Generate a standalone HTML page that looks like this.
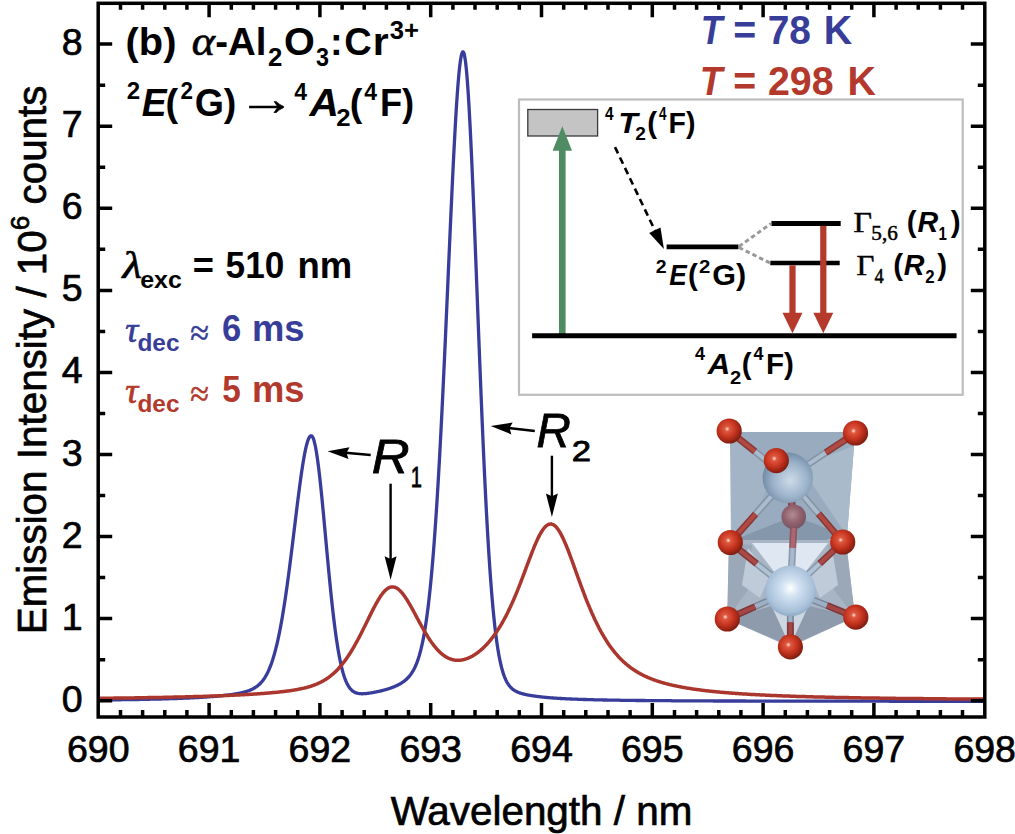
<!DOCTYPE html>
<html><head><meta charset="utf-8"><style>
html,body{margin:0;padding:0;background:#fff;}
svg{display:block;}
.tl{font-family:"Liberation Sans",Arial,sans-serif;font-size:37.5px;fill:#000;stroke:#000;stroke-width:0.7px;}
.al{font-family:"Liberation Sans",Arial,sans-serif;font-size:40.4px;fill:#000;stroke:#000;stroke-width:0.7px;}
.b{font-family:"Liberation Sans",Arial,sans-serif;font-weight:bold;}
.s{font-family:"Liberation Serif","Times New Roman",serif;}
</style></head><body>
<svg width="1015" height="834" viewBox="0 0 1015 834">
<rect width="1015" height="834" fill="#fff"/>
<path d="M99.7,700.0 L100.2,700.0 L100.7,700.0 L101.2,700.0 L101.7,700.0 L102.2,700.0 L102.7,700.0 L103.2,700.0 L103.7,700.0 L104.2,700.0 L104.7,700.0 L105.2,700.0 L105.7,699.9 L106.2,699.9 L106.7,699.9 L107.2,699.9 L107.7,699.9 L108.2,699.9 L108.7,699.9 L109.2,699.9 L109.7,699.9 L110.2,699.9 L110.7,699.9 L111.2,699.9 L111.7,699.9 L112.2,699.9 L112.7,699.9 L113.2,699.9 L113.7,699.9 L114.2,699.8 L114.7,699.8 L115.2,699.8 L115.7,699.8 L116.2,699.8 L116.7,699.8 L117.2,699.8 L117.7,699.8 L118.2,699.8 L118.7,699.8 L119.2,699.8 L119.7,699.8 L120.2,699.8 L120.7,699.8 L121.2,699.7 L121.7,699.7 L122.2,699.7 L122.7,699.7 L123.2,699.7 L123.7,699.7 L124.2,699.7 L124.7,699.7 L125.2,699.7 L125.7,699.7 L126.2,699.7 L126.7,699.7 L127.2,699.7 L127.7,699.7 L128.2,699.6 L128.7,699.6 L129.2,699.6 L129.7,699.6 L130.2,699.6 L130.7,699.6 L131.2,699.6 L131.7,699.6 L132.2,699.6 L132.7,699.6 L133.2,699.6 L133.7,699.6 L134.2,699.5 L134.7,699.5 L135.2,699.5 L135.7,699.5 L136.2,699.5 L136.7,699.5 L137.2,699.5 L137.7,699.5 L138.2,699.5 L138.7,699.5 L139.2,699.5 L139.7,699.4 L140.2,699.4 L140.7,699.4 L141.2,699.4 L141.7,699.4 L142.2,699.4 L142.7,699.4 L143.2,699.4 L143.7,699.4 L144.2,699.4 L144.7,699.3 L145.2,699.3 L145.7,699.3 L146.2,699.3 L146.7,699.3 L147.2,699.3 L147.7,699.3 L148.2,699.3 L148.7,699.3 L149.2,699.3 L149.7,699.2 L150.2,699.2 L150.7,699.2 L151.2,699.2 L151.7,699.2 L152.2,699.2 L152.7,699.2 L153.2,699.2 L153.7,699.2 L154.2,699.1 L154.7,699.1 L155.2,699.1 L155.7,699.1 L156.2,699.1 L156.7,699.1 L157.2,699.1 L157.7,699.1 L158.2,699.0 L158.7,699.0 L159.2,699.0 L159.7,699.0 L160.2,699.0 L160.7,699.0 L161.2,699.0 L161.7,699.0 L162.2,698.9 L162.7,698.9 L163.2,698.9 L163.7,698.9 L164.2,698.9 L164.7,698.9 L165.2,698.9 L165.7,698.8 L166.2,698.8 L166.7,698.8 L167.2,698.8 L167.7,698.8 L168.2,698.8 L168.7,698.8 L169.2,698.7 L169.7,698.7 L170.2,698.7 L170.7,698.7 L171.2,698.7 L171.7,698.7 L172.2,698.6 L172.7,698.6 L173.2,698.6 L173.7,698.6 L174.2,698.6 L174.7,698.6 L175.2,698.5 L175.7,698.5 L176.2,698.5 L176.7,698.5 L177.2,698.5 L177.7,698.5 L178.2,698.4 L178.7,698.4 L179.2,698.4 L179.7,698.4 L180.2,698.4 L180.7,698.3 L181.2,698.3 L181.7,698.3 L182.2,698.3 L182.7,698.3 L183.2,698.2 L183.7,698.2 L184.2,698.2 L184.7,698.2 L185.2,698.2 L185.7,698.1 L186.2,698.1 L186.7,698.1 L187.2,698.1 L187.7,698.1 L188.2,698.0 L188.7,698.0 L189.2,698.0 L189.7,698.0 L190.2,697.9 L190.7,697.9 L191.2,697.9 L191.7,697.9 L192.2,697.8 L192.7,697.8 L193.2,697.8 L193.7,697.8 L194.2,697.7 L194.7,697.7 L195.2,697.7 L195.7,697.7 L196.2,697.6 L196.7,697.6 L197.2,697.6 L197.7,697.6 L198.2,697.5 L198.7,697.5 L199.2,697.5 L199.7,697.4 L200.2,697.4 L200.7,697.4 L201.2,697.4 L201.7,697.3 L202.2,697.3 L202.7,697.3 L203.2,697.2 L203.7,697.2 L204.2,697.2 L204.7,697.1 L205.2,697.1 L205.7,697.1 L206.2,697.0 L206.7,697.0 L207.2,697.0 L207.7,696.9 L208.2,696.9 L208.7,696.9 L209.2,696.8 L209.7,696.8 L210.2,696.7 L210.7,696.7 L211.2,696.7 L211.7,696.6 L212.2,696.6 L212.7,696.6 L213.2,696.5 L213.7,696.5 L214.2,696.4 L214.7,696.4 L215.2,696.3 L215.7,696.3 L216.2,696.3 L216.7,696.2 L217.2,696.2 L217.7,696.1 L218.2,696.1 L218.7,696.0 L219.2,696.0 L219.7,695.9 L220.2,695.9 L220.7,695.8 L221.2,695.8 L221.7,695.7 L222.2,695.7 L222.7,695.6 L223.2,695.6 L223.7,695.5 L224.2,695.5 L224.7,695.4 L225.2,695.3 L225.7,695.3 L226.2,695.2 L226.7,695.2 L227.2,695.1 L227.7,695.0 L228.2,695.0 L228.7,694.9 L229.2,694.9 L229.7,694.8 L230.2,694.7 L230.7,694.6 L231.2,694.6 L231.7,694.5 L232.2,694.4 L232.7,694.4 L233.2,694.3 L233.7,694.2 L234.2,694.1 L234.7,694.0 L235.2,694.0 L235.7,693.9 L236.2,693.8 L236.7,693.7 L237.2,693.6 L237.7,693.5 L238.2,693.4 L238.7,693.3 L239.2,693.2 L239.7,693.1 L240.2,693.0 L240.7,692.9 L241.2,692.8 L241.7,692.7 L242.2,692.6 L242.7,692.5 L243.2,692.3 L243.7,692.2 L244.2,692.1 L244.7,691.9 L245.2,691.8 L245.7,691.7 L246.2,691.5 L246.7,691.4 L247.2,691.2 L247.7,691.0 L248.2,690.9 L248.7,690.7 L249.2,690.5 L249.7,690.3 L250.2,690.1 L250.7,689.9 L251.2,689.7 L251.7,689.4 L252.2,689.2 L252.7,689.0 L253.2,688.7 L253.7,688.4 L254.2,688.1 L254.7,687.9 L255.2,687.5 L255.7,687.2 L256.2,686.9 L256.7,686.5 L257.2,686.1 L257.7,685.8 L258.2,685.3 L258.7,684.9 L259.2,684.5 L259.7,684.0 L260.2,683.5 L260.7,683.0 L261.2,682.4 L261.7,681.9 L262.2,681.3 L262.7,680.6 L263.2,680.0 L263.7,679.3 L264.2,678.6 L264.7,677.8 L265.2,677.0 L265.7,676.2 L266.2,675.3 L266.7,674.4 L267.2,673.4 L267.7,672.4 L268.2,671.4 L268.7,670.3 L269.2,669.1 L269.7,668.0 L270.2,666.7 L270.7,665.4 L271.2,664.1 L271.7,662.7 L272.2,661.2 L272.7,659.7 L273.2,658.1 L273.7,656.4 L274.2,654.7 L274.7,652.9 L275.2,651.1 L275.7,649.2 L276.2,647.2 L276.7,645.1 L277.2,643.0 L277.7,640.8 L278.2,638.5 L278.7,636.2 L279.2,633.8 L279.7,631.3 L280.2,628.7 L280.7,626.1 L281.2,623.3 L281.7,620.5 L282.2,617.7 L282.7,614.7 L283.2,611.7 L283.7,608.6 L284.2,605.4 L284.7,602.2 L285.2,598.9 L285.7,595.5 L286.2,592.1 L286.7,588.5 L287.2,585.0 L287.7,581.3 L288.2,577.6 L288.7,573.9 L289.2,570.1 L289.7,566.2 L290.2,562.3 L290.7,558.4 L291.2,554.4 L291.7,550.4 L292.2,546.4 L292.7,542.3 L293.2,538.2 L293.7,534.1 L294.2,530.0 L294.7,525.9 L295.2,521.7 L295.7,517.6 L296.2,513.6 L296.7,509.5 L297.2,505.4 L297.7,501.4 L298.2,497.5 L298.7,493.6 L299.2,489.7 L299.7,485.9 L300.2,482.2 L300.7,478.6 L301.2,475.0 L301.7,471.6 L302.2,468.2 L302.7,465.0 L303.2,461.9 L303.7,459.0 L304.2,456.2 L304.7,453.5 L305.2,451.0 L305.7,448.7 L306.2,446.5 L306.7,444.5 L307.2,442.7 L307.7,441.1 L308.2,439.7 L308.7,438.5 L309.2,437.5 L309.7,436.8 L310.2,436.2 L310.7,435.9 L311.2,435.8 L311.7,435.9 L312.2,436.4 L312.7,437.2 L313.2,438.2 L313.7,439.6 L314.2,441.3 L314.7,443.3 L315.2,445.5 L315.7,448.0 L316.2,450.8 L316.7,453.9 L317.2,457.2 L317.7,460.7 L318.2,464.5 L318.7,468.4 L319.2,472.6 L319.7,477.0 L320.2,481.5 L320.7,486.2 L321.2,491.0 L321.7,495.9 L322.2,501.0 L322.7,506.2 L323.2,511.4 L323.7,516.7 L324.2,522.1 L324.7,527.5 L325.2,532.9 L325.7,538.4 L326.2,543.8 L326.7,549.3 L327.2,554.7 L327.7,560.1 L328.2,565.4 L328.7,570.7 L329.2,575.9 L329.7,581.0 L330.2,586.0 L330.7,590.9 L331.2,595.8 L331.7,600.5 L332.2,605.1 L332.7,609.6 L333.2,614.0 L333.7,618.2 L334.2,622.3 L334.7,626.3 L335.2,630.1 L335.7,633.8 L336.2,637.4 L336.7,640.8 L337.2,644.1 L337.7,647.3 L338.2,650.3 L338.7,653.1 L339.2,655.9 L339.7,658.5 L340.2,661.0 L340.7,663.3 L341.2,665.5 L341.7,667.6 L342.2,669.6 L342.7,671.5 L343.2,673.3 L343.7,674.9 L344.2,676.5 L344.7,677.9 L345.2,679.3 L345.7,680.6 L346.2,681.7 L346.7,682.9 L347.2,683.9 L347.7,684.8 L348.2,685.7 L348.7,686.5 L349.2,687.3 L349.7,688.0 L350.2,688.6 L350.7,689.2 L351.2,689.7 L351.7,690.2 L352.2,690.6 L352.7,691.0 L353.2,691.4 L353.7,691.7 L354.2,692.0 L354.7,692.3 L355.2,692.5 L355.7,692.7 L356.2,692.9 L356.7,693.1 L357.2,693.2 L357.7,693.3 L358.2,693.4 L358.7,693.5 L359.2,693.6 L359.7,693.6 L360.2,693.7 L360.7,693.7 L361.2,693.7 L361.7,693.8 L362.2,693.8 L362.7,693.8 L363.2,693.7 L363.7,693.7 L364.2,693.7 L364.7,693.7 L365.2,693.6 L365.7,693.6 L366.2,693.5 L366.7,693.5 L367.2,693.4 L367.7,693.4 L368.2,693.3 L368.7,693.2 L369.2,693.2 L369.7,693.1 L370.2,693.0 L370.7,692.9 L371.2,692.9 L371.7,692.8 L372.2,692.7 L372.7,692.6 L373.2,692.5 L373.7,692.4 L374.2,692.3 L374.7,692.2 L375.2,692.1 L375.7,692.0 L376.2,691.9 L376.7,691.8 L377.2,691.7 L377.7,691.6 L378.2,691.5 L378.7,691.4 L379.2,691.3 L379.7,691.2 L380.2,691.1 L380.7,690.9 L381.2,690.8 L381.7,690.7 L382.2,690.6 L382.7,690.4 L383.2,690.3 L383.7,690.2 L384.2,690.0 L384.7,689.9 L385.2,689.8 L385.7,689.6 L386.2,689.5 L386.7,689.3 L387.2,689.2 L387.7,689.0 L388.2,688.9 L388.7,688.7 L389.2,688.5 L389.7,688.4 L390.2,688.2 L390.7,688.0 L391.2,687.8 L391.7,687.7 L392.2,687.5 L392.7,687.3 L393.2,687.1 L393.7,686.9 L394.2,686.7 L394.7,686.5 L395.2,686.3 L395.7,686.0 L396.2,685.8 L396.7,685.6 L397.2,685.4 L397.7,685.1 L398.2,684.9 L398.7,684.6 L399.2,684.3 L399.7,684.1 L400.2,683.8 L400.7,683.5 L401.2,683.2 L401.7,682.9 L402.2,682.5 L402.7,682.2 L403.2,681.9 L403.7,681.5 L404.2,681.1 L404.7,680.7 L405.2,680.3 L405.7,679.9 L406.2,679.5 L406.7,679.0 L407.2,678.5 L407.7,678.0 L408.2,677.5 L408.7,677.0 L409.2,676.4 L409.7,675.8 L410.2,675.1 L410.7,674.5 L411.2,673.8 L411.7,673.0 L412.2,672.3 L412.7,671.4 L413.2,670.6 L413.7,669.7 L414.2,668.7 L414.7,667.7 L415.2,666.7 L415.7,665.5 L416.2,664.4 L416.7,663.1 L417.2,661.8 L417.7,660.4 L418.2,658.9 L418.7,657.4 L419.2,655.8 L419.7,654.0 L420.2,652.2 L420.7,650.3 L421.2,648.3 L421.7,646.2 L422.2,643.9 L422.7,641.6 L423.2,639.1 L423.7,636.5 L424.2,633.7 L424.7,630.8 L425.2,627.8 L425.7,624.6 L426.2,621.2 L426.7,617.7 L427.2,614.1 L427.7,610.2 L428.2,606.2 L428.7,601.9 L429.2,597.5 L429.7,592.9 L430.2,588.1 L430.7,583.1 L431.2,577.9 L431.7,572.5 L432.2,566.8 L432.7,561.0 L433.2,554.9 L433.7,548.6 L434.2,542.0 L434.7,535.2 L435.2,528.2 L435.7,521.0 L436.2,513.5 L436.7,505.8 L437.2,497.9 L437.7,489.7 L438.2,481.3 L438.7,472.7 L439.2,463.8 L439.7,454.8 L440.2,445.5 L440.7,436.0 L441.2,426.3 L441.7,416.4 L442.2,406.4 L442.7,396.1 L443.2,385.7 L443.7,375.1 L444.2,364.4 L444.7,353.5 L445.2,342.6 L445.7,331.5 L446.2,320.3 L446.7,309.1 L447.2,297.8 L447.7,286.5 L448.2,275.1 L448.7,263.8 L449.2,252.5 L449.7,241.2 L450.2,230.0 L450.7,218.9 L451.2,207.9 L451.7,197.1 L452.2,186.4 L452.7,175.9 L453.2,165.7 L453.7,155.7 L454.2,146.0 L454.7,136.6 L455.2,127.5 L455.7,118.8 L456.2,110.6 L456.7,102.7 L457.2,95.4 L457.7,88.5 L458.2,82.1 L458.7,76.3 L459.2,71.1 L459.7,66.4 L460.2,62.4 L460.7,59.0 L461.2,56.2 L461.7,54.1 L462.2,52.7 L462.7,51.9 L463.2,51.8 L463.7,52.6 L464.2,54.1 L464.7,56.4 L465.2,59.4 L465.7,63.3 L466.2,67.9 L466.7,73.2 L467.2,79.2 L467.7,85.9 L468.2,93.2 L468.7,101.2 L469.2,109.7 L469.7,118.8 L470.2,128.4 L470.7,138.5 L471.2,149.0 L471.7,159.9 L472.2,171.2 L472.7,182.8 L473.2,194.8 L473.7,207.0 L474.2,219.4 L474.7,232.0 L475.2,244.7 L475.7,257.6 L476.2,270.5 L476.7,283.5 L477.2,296.5 L477.7,309.6 L478.2,322.5 L478.7,335.5 L479.2,348.3 L479.7,361.0 L480.2,373.6 L480.7,386.0 L481.2,398.3 L481.7,410.3 L482.2,422.1 L482.7,433.7 L483.2,445.1 L483.7,456.2 L484.2,467.0 L484.7,477.6 L485.2,487.8 L485.7,497.8 L486.2,507.4 L486.7,516.8 L487.2,525.8 L487.7,534.6 L488.2,543.0 L488.7,551.1 L489.2,558.9 L489.7,566.4 L490.2,573.6 L490.7,580.4 L491.2,587.0 L491.7,593.3 L492.2,599.3 L492.7,605.0 L493.2,610.4 L493.7,615.5 L494.2,620.4 L494.7,625.1 L495.2,629.5 L495.7,633.6 L496.2,637.5 L496.7,641.2 L497.2,644.7 L497.7,648.0 L498.2,651.1 L498.7,654.0 L499.2,656.7 L499.7,659.3 L500.2,661.7 L500.7,663.9 L501.2,666.0 L501.7,668.0 L502.2,669.8 L502.7,671.6 L503.2,673.2 L503.7,674.7 L504.2,676.0 L504.7,677.3 L505.2,678.5 L505.7,679.7 L506.2,680.7 L506.7,681.7 L507.2,682.6 L507.7,683.4 L508.2,684.2 L508.7,684.9 L509.2,685.6 L509.7,686.2 L510.2,686.8 L510.7,687.3 L511.2,687.9 L511.7,688.3 L512.2,688.8 L512.7,689.2 L513.2,689.6 L513.7,689.9 L514.2,690.3 L514.7,690.6 L515.2,690.9 L515.7,691.1 L516.2,691.4 L516.7,691.7 L517.2,691.9 L517.7,692.1 L518.2,692.3 L518.7,692.5 L519.2,692.7 L519.7,692.9 L520.2,693.1 L520.7,693.2 L521.2,693.4 L521.7,693.5 L522.2,693.7 L522.7,693.8 L523.2,693.9 L523.7,694.1 L524.2,694.2 L524.7,694.3 L525.2,694.4 L525.7,694.5 L526.2,694.6 L526.7,694.8 L527.2,694.9 L527.7,695.0 L528.2,695.1 L528.7,695.1 L529.2,695.2 L529.7,695.3 L530.2,695.4 L530.7,695.5 L531.2,695.6 L531.7,695.7 L532.2,695.7 L532.7,695.8 L533.2,695.9 L533.7,696.0 L534.2,696.0 L534.7,696.1 L535.2,696.2 L535.7,696.2 L536.2,696.3 L536.7,696.4 L537.2,696.4 L537.7,696.5 L538.2,696.6 L538.7,696.6 L539.2,696.7 L539.7,696.7 L540.2,696.8 L540.7,696.9 L541.2,696.9 L541.7,697.0 L542.2,697.0 L542.7,697.1 L543.2,697.1 L543.7,697.2 L544.2,697.2 L544.7,697.3 L545.2,697.3 L545.7,697.4 L546.2,697.4 L546.7,697.5 L547.2,697.5 L547.7,697.6 L548.2,697.6 L548.7,697.6 L549.2,697.7 L549.7,697.7 L550.2,697.8 L550.7,697.8 L551.2,697.8 L551.7,697.9 L552.2,697.9 L552.7,698.0 L553.2,698.0 L553.7,698.0 L554.2,698.1 L554.7,698.1 L555.2,698.1 L555.7,698.2 L556.2,698.2 L556.7,698.2 L557.2,698.3 L557.7,698.3 L558.2,698.3 L558.7,698.4 L559.2,698.4 L559.7,698.4 L560.2,698.5 L560.7,698.5 L561.2,698.5 L561.7,698.5 L562.2,698.6 L562.7,698.6 L563.2,698.6 L563.7,698.6 L564.2,698.7 L564.7,698.7 L565.2,698.7 L565.7,698.8 L566.2,698.8 L566.7,698.8 L567.2,698.8 L567.7,698.9 L568.2,698.9 L568.7,698.9 L569.2,698.9 L569.7,698.9 L570.2,699.0 L570.7,699.0 L571.2,699.0 L571.7,699.0 L572.2,699.1 L572.7,699.1 L573.2,699.1 L573.7,699.1 L574.2,699.1 L574.7,699.2 L575.2,699.2 L575.7,699.2 L576.2,699.2 L576.7,699.2 L577.2,699.2 L577.7,699.3 L578.2,699.3 L578.7,699.3 L579.2,699.3 L579.7,699.3 L580.2,699.4 L580.7,699.4 L581.2,699.4 L581.7,699.4 L582.2,699.4 L582.7,699.4 L583.2,699.5 L583.7,699.5 L584.2,699.5 L584.7,699.5 L585.2,699.5 L585.7,699.5 L586.2,699.5 L586.7,699.6 L587.2,699.6 L587.7,699.6 L588.2,699.6 L588.7,699.6 L589.2,699.6 L589.7,699.6 L590.2,699.7 L590.7,699.7 L591.2,699.7 L591.7,699.7 L592.2,699.7 L592.7,699.7 L593.2,699.7 L593.7,699.8 L594.2,699.8 L594.7,699.8 L595.2,699.8 L595.7,699.8 L596.2,699.8 L596.7,699.8 L597.2,699.8 L597.7,699.8 L598.2,699.9 L598.7,699.9 L599.2,699.9 L599.7,699.9 L600.2,699.9 L600.7,699.9 L601.2,699.9 L601.7,699.9 L602.2,699.9 L602.7,700.0 L603.2,700.0 L603.7,700.0 L604.2,700.0 L604.7,700.0 L605.2,700.0 L605.7,700.0 L606.2,700.0 L606.7,700.0 L607.2,700.0 L607.7,700.1 L608.2,700.1 L608.7,700.1 L609.2,700.1 L609.7,700.1 L610.2,700.1 L610.7,700.1 L611.2,700.1 L611.7,700.1 L612.2,700.1 L612.7,700.1 L613.2,700.1 L613.7,700.2 L614.2,700.2 L614.7,700.2 L615.2,700.2 L615.7,700.2 L616.2,700.2 L616.7,700.2 L617.2,700.2 L617.7,700.2 L618.2,700.2 L618.7,700.2 L619.2,700.2 L619.7,700.2 L620.2,700.3 L620.7,700.3 L621.2,700.3 L621.7,700.3 L622.2,700.3 L622.7,700.3 L623.2,700.3 L623.7,700.3 L624.2,700.3 L624.7,700.3 L625.2,700.3 L625.7,700.3 L626.2,700.3 L626.7,700.3 L627.2,700.4 L627.7,700.4 L628.2,700.4 L628.7,700.4 L629.2,700.4 L629.7,700.4 L630.2,700.4 L630.7,700.4 L631.2,700.4 L631.7,700.4 L632.2,700.4 L632.7,700.4 L633.2,700.4 L633.7,700.4 L634.2,700.4 L634.7,700.4 L635.2,700.4 L635.7,700.5 L636.2,700.5 L636.7,700.5 L637.2,700.5 L637.7,700.5 L638.2,700.5 L638.7,700.5 L639.2,700.5 L639.7,700.5 L640.2,700.5 L640.7,700.5 L641.2,700.5 L641.7,700.5 L642.2,700.5 L642.7,700.5 L643.2,700.5 L643.7,700.5 L644.2,700.5 L644.7,700.5 L645.2,700.5 L645.7,700.6 L646.2,700.6 L646.7,700.6 L647.2,700.6 L647.7,700.6 L648.2,700.6 L648.7,700.6 L649.2,700.6 L649.7,700.6 L650.2,700.6 L650.7,700.6 L651.2,700.6 L651.7,700.6 L652.2,700.6 L652.7,700.6 L653.2,700.6 L653.7,700.6 L654.2,700.6 L654.7,700.6 L655.2,700.6 L655.7,700.6 L656.2,700.6 L656.7,700.6 L657.2,700.7 L657.7,700.7 L658.2,700.7 L658.7,700.7 L659.2,700.7 L659.7,700.7 L660.2,700.7 L660.7,700.7 L661.2,700.7 L661.7,700.7 L662.2,700.7 L662.7,700.7 L663.2,700.7 L663.7,700.7 L664.2,700.7 L664.7,700.7 L665.2,700.7 L665.7,700.7 L666.2,700.7 L666.7,700.7 L667.2,700.7 L667.7,700.7 L668.2,700.7 L668.7,700.7 L669.2,700.7 L669.7,700.7 L670.2,700.7 L670.7,700.7 L671.2,700.7 L671.7,700.8 L672.2,700.8 L672.7,700.8 L673.2,700.8 L673.7,700.8 L674.2,700.8 L674.7,700.8 L675.2,700.8 L675.7,700.8 L676.2,700.8 L676.7,700.8 L677.2,700.8 L677.7,700.8 L678.2,700.8 L678.7,700.8 L679.2,700.8 L679.7,700.8 L680.2,700.8 L680.7,700.8 L681.2,700.8 L681.7,700.8 L682.2,700.8 L682.7,700.8 L683.2,700.8 L683.7,700.8 L684.2,700.8 L684.7,700.8 L685.2,700.8 L685.7,700.8 L686.2,700.8 L686.7,700.8 L687.2,700.8 L687.7,700.8 L688.2,700.8 L688.7,700.8 L689.2,700.8 L689.7,700.9 L690.2,700.9 L690.7,700.9 L691.2,700.9 L691.7,700.9 L692.2,700.9 L692.7,700.9 L693.2,700.9 L693.7,700.9 L694.2,700.9 L694.7,700.9 L695.2,700.9 L695.7,700.9 L696.2,700.9 L696.7,700.9 L697.2,700.9 L697.7,700.9 L698.2,700.9 L698.7,700.9 L699.2,700.9 L699.7,700.9 L700.2,700.9 L700.7,700.9 L701.2,700.9 L701.7,700.9 L702.2,700.9 L702.7,700.9 L703.2,700.9 L703.7,700.9 L704.2,700.9 L704.7,700.9 L705.2,700.9 L705.7,700.9 L706.2,700.9 L706.7,700.9 L707.2,700.9 L707.7,700.9 L708.2,700.9 L708.7,700.9 L709.2,700.9 L709.7,700.9 L710.2,700.9 L710.7,700.9 L711.2,700.9 L711.7,700.9 L712.2,700.9 L712.7,700.9 L713.2,701.0 L713.7,701.0 L714.2,701.0 L714.7,701.0 L715.2,701.0 L715.7,701.0 L716.2,701.0 L716.7,701.0 L717.2,701.0 L717.7,701.0 L718.2,701.0 L718.7,701.0 L719.2,701.0 L719.7,701.0 L720.2,701.0 L720.7,701.0 L721.2,701.0 L721.7,701.0 L722.2,701.0 L722.7,701.0 L723.2,701.0 L723.7,701.0 L724.2,701.0 L724.7,701.0 L725.2,701.0 L725.7,701.0 L726.2,701.0 L726.7,701.0 L727.2,701.0 L727.7,701.0 L728.2,701.0 L728.7,701.0 L729.2,701.0 L729.7,701.0 L730.2,701.0 L730.7,701.0 L731.2,701.0 L731.7,701.0 L732.2,701.0 L732.7,701.0 L733.2,701.0 L733.7,701.0 L734.2,701.0 L734.7,701.0 L735.2,701.0 L735.7,701.0 L736.2,701.0 L736.7,701.0 L737.2,701.0 L737.7,701.0 L738.2,701.0 L738.7,701.0 L739.2,701.0 L739.7,701.0 L740.2,701.0 L740.7,701.0 L741.2,701.0 L741.7,701.0 L742.2,701.0 L742.7,701.0 L743.2,701.0 L743.7,701.0 L744.2,701.0 L744.7,701.0 L745.2,701.0 L745.7,701.0 L746.2,701.1 L746.7,701.1 L747.2,701.1 L747.7,701.1 L748.2,701.1 L748.7,701.1 L749.2,701.1 L749.7,701.1 L750.2,701.1 L750.7,701.1 L751.2,701.1 L751.7,701.1 L752.2,701.1 L752.7,701.1 L753.2,701.1 L753.7,701.1 L754.2,701.1 L754.7,701.1 L755.2,701.1 L755.7,701.1 L756.2,701.1 L756.7,701.1 L757.2,701.1 L757.7,701.1 L758.2,701.1 L758.7,701.1 L759.2,701.1 L759.7,701.1 L760.2,701.1 L760.7,701.1 L761.2,701.1 L761.7,701.1 L762.2,701.1 L762.7,701.1 L763.2,701.1 L763.7,701.1 L764.2,701.1 L764.7,701.1 L765.2,701.1 L765.7,701.1 L766.2,701.1 L766.7,701.1 L767.2,701.1 L767.7,701.1 L768.2,701.1 L768.7,701.1 L769.2,701.1 L769.7,701.1 L770.2,701.1 L770.7,701.1 L771.2,701.1 L771.7,701.1 L772.2,701.1 L772.7,701.1 L773.2,701.1 L773.7,701.1 L774.2,701.1 L774.7,701.1 L775.2,701.1 L775.7,701.1 L776.2,701.1 L776.7,701.1 L777.2,701.1 L777.7,701.1 L778.2,701.1 L778.7,701.1 L779.2,701.1 L779.7,701.1 L780.2,701.1 L780.7,701.1 L781.2,701.1 L781.7,701.1 L782.2,701.1 L782.7,701.1 L783.2,701.1 L783.7,701.1 L784.2,701.1 L784.7,701.1 L785.2,701.1 L785.7,701.1 L786.2,701.1 L786.7,701.1 L787.2,701.1 L787.7,701.1 L788.2,701.1 L788.7,701.1 L789.2,701.1 L789.7,701.1 L790.2,701.1 L790.7,701.1 L791.2,701.1 L791.7,701.1 L792.2,701.1 L792.7,701.1 L793.2,701.1 L793.7,701.1 L794.2,701.1 L794.7,701.1 L795.2,701.1 L795.7,701.1 L796.2,701.1 L796.7,701.2 L797.2,701.2 L797.7,701.2 L798.2,701.2 L798.7,701.2 L799.2,701.2 L799.7,701.2 L800.2,701.2 L800.7,701.2 L801.2,701.2 L801.7,701.2 L802.2,701.2 L802.7,701.2 L803.2,701.2 L803.7,701.2 L804.2,701.2 L804.7,701.2 L805.2,701.2 L805.7,701.2 L806.2,701.2 L806.7,701.2 L807.2,701.2 L807.7,701.2 L808.2,701.2 L808.7,701.2 L809.2,701.2 L809.7,701.2 L810.2,701.2 L810.7,701.2 L811.2,701.2 L811.7,701.2 L812.2,701.2 L812.7,701.2 L813.2,701.2 L813.7,701.2 L814.2,701.2 L814.7,701.2 L815.2,701.2 L815.7,701.2 L816.2,701.2 L816.7,701.2 L817.2,701.2 L817.7,701.2 L818.2,701.2 L818.7,701.2 L819.2,701.2 L819.7,701.2 L820.2,701.2 L820.7,701.2 L821.2,701.2 L821.7,701.2 L822.2,701.2 L822.7,701.2 L823.2,701.2 L823.7,701.2 L824.2,701.2 L824.7,701.2 L825.2,701.2 L825.7,701.2 L826.2,701.2 L826.7,701.2 L827.2,701.2 L827.7,701.2 L828.2,701.2 L828.7,701.2 L829.2,701.2 L829.7,701.2 L830.2,701.2 L830.7,701.2 L831.2,701.2 L831.7,701.2 L832.2,701.2 L832.7,701.2 L833.2,701.2 L833.7,701.2 L834.2,701.2 L834.7,701.2 L835.2,701.2 L835.7,701.2 L836.2,701.2 L836.7,701.2 L837.2,701.2 L837.7,701.2 L838.2,701.2 L838.7,701.2 L839.2,701.2 L839.7,701.2 L840.2,701.2 L840.7,701.2 L841.2,701.2 L841.7,701.2 L842.2,701.2 L842.7,701.2 L843.2,701.2 L843.7,701.2 L844.2,701.2 L844.7,701.2 L845.2,701.2 L845.7,701.2 L846.2,701.2 L846.7,701.2 L847.2,701.2 L847.7,701.2 L848.2,701.2 L848.7,701.2 L849.2,701.2 L849.7,701.2 L850.2,701.2 L850.7,701.2 L851.2,701.2 L851.7,701.2 L852.2,701.2 L852.7,701.2 L853.2,701.2 L853.7,701.2 L854.2,701.2 L854.7,701.2 L855.2,701.2 L855.7,701.2 L856.2,701.2 L856.7,701.2 L857.2,701.2 L857.7,701.2 L858.2,701.2 L858.7,701.2 L859.2,701.2 L859.7,701.2 L860.2,701.2 L860.7,701.2 L861.2,701.2 L861.7,701.2 L862.2,701.2 L862.7,701.2 L863.2,701.2 L863.7,701.2 L864.2,701.2 L864.7,701.2 L865.2,701.2 L865.7,701.2 L866.2,701.2 L866.7,701.2 L867.2,701.2 L867.7,701.2 L868.2,701.2 L868.7,701.2 L869.2,701.2 L869.7,701.2 L870.2,701.2 L870.7,701.2 L871.2,701.2 L871.7,701.2 L872.2,701.2 L872.7,701.2 L873.2,701.2 L873.7,701.2 L874.2,701.2 L874.7,701.2 L875.2,701.2 L875.7,701.2 L876.2,701.2 L876.7,701.2 L877.2,701.2 L877.7,701.2 L878.2,701.2 L878.7,701.2 L879.2,701.2 L879.7,701.2 L880.2,701.2 L880.7,701.2 L881.2,701.2 L881.7,701.2 L882.2,701.2 L882.7,701.2 L883.2,701.2 L883.7,701.2 L884.2,701.2 L884.7,701.2 L885.2,701.2 L885.7,701.2 L886.2,701.2 L886.7,701.2 L887.2,701.2 L887.7,701.2 L888.2,701.2 L888.7,701.2 L889.2,701.2 L889.7,701.3 L890.2,701.3 L890.7,701.3 L891.2,701.3 L891.7,701.3 L892.2,701.3 L892.7,701.3 L893.2,701.3 L893.7,701.3 L894.2,701.3 L894.7,701.3 L895.2,701.3 L895.7,701.3 L896.2,701.3 L896.7,701.3 L897.2,701.3 L897.7,701.3 L898.2,701.3 L898.7,701.3 L899.2,701.3 L899.7,701.3 L900.2,701.3 L900.7,701.3 L901.2,701.3 L901.7,701.3 L902.2,701.3 L902.7,701.3 L903.2,701.3 L903.7,701.3 L904.2,701.3 L904.7,701.3 L905.2,701.3 L905.7,701.3 L906.2,701.3 L906.7,701.3 L907.2,701.3 L907.7,701.3 L908.2,701.3 L908.7,701.3 L909.2,701.3 L909.7,701.3 L910.2,701.3 L910.7,701.3 L911.2,701.3 L911.7,701.3 L912.2,701.3 L912.7,701.3 L913.2,701.3 L913.7,701.3 L914.2,701.3 L914.7,701.3 L915.2,701.3 L915.7,701.3 L916.2,701.3 L916.7,701.3 L917.2,701.3 L917.7,701.3 L918.2,701.3 L918.7,701.3 L919.2,701.3 L919.7,701.3 L920.2,701.3 L920.7,701.3 L921.2,701.3 L921.7,701.3 L922.2,701.3 L922.7,701.3 L923.2,701.3 L923.7,701.3 L924.2,701.3 L924.7,701.3 L925.2,701.3 L925.7,701.3 L926.2,701.3 L926.7,701.3 L927.2,701.3 L927.7,701.3 L928.2,701.3 L928.7,701.3 L929.2,701.3 L929.7,701.3 L930.2,701.3 L930.7,701.3 L931.2,701.3 L931.7,701.3 L932.2,701.3 L932.7,701.3 L933.2,701.3 L933.7,701.3 L934.2,701.3 L934.7,701.3 L935.2,701.3 L935.7,701.3 L936.2,701.3 L936.7,701.3 L937.2,701.3 L937.7,701.3 L938.2,701.3 L938.7,701.3 L939.2,701.3 L939.7,701.3 L940.2,701.3 L940.7,701.3 L941.2,701.3 L941.7,701.3 L942.2,701.3 L942.7,701.3 L943.2,701.3 L943.7,701.3 L944.2,701.3 L944.7,701.3 L945.2,701.3 L945.7,701.3 L946.2,701.3 L946.7,701.3 L947.2,701.3 L947.7,701.3 L948.2,701.3 L948.7,701.3 L949.2,701.3 L949.7,701.3 L950.2,701.3 L950.7,701.3 L951.2,701.3 L951.7,701.3 L952.2,701.3 L952.7,701.3 L953.2,701.3 L953.7,701.3 L954.2,701.3 L954.7,701.3 L955.2,701.3 L955.7,701.3 L956.2,701.3 L956.7,701.3 L957.2,701.3 L957.7,701.3 L958.2,701.3 L958.7,701.3 L959.2,701.3 L959.7,701.3 L960.2,701.3 L960.7,701.3 L961.2,701.3 L961.7,701.3 L962.2,701.3 L962.7,701.3 L963.2,701.3 L963.7,701.3 L964.2,701.3 L964.7,701.3 L965.2,701.3 L965.7,701.3 L966.2,701.3 L966.7,701.3 L967.2,701.3 L967.7,701.3 L968.2,701.3 L968.7,701.3 L969.2,701.3 L969.7,701.3 L970.2,701.3 L970.7,701.3 L971.2,701.3 L971.7,701.3 L972.2,701.3 L972.7,701.3 L973.2,701.3 L973.7,701.3 L974.2,701.3 L974.7,701.3 L975.2,701.3 L975.7,701.3 L976.2,701.3 L976.7,701.3 L977.2,701.3 L977.7,701.3 L978.2,701.3 L978.7,701.3 L979.2,701.3 L979.7,701.3 L980.2,701.3 L980.7,701.3 L981.2,701.3 L981.7,701.3 L982.2,701.3 L982.7,701.3 L983.2,701.3" fill="none" stroke="#383c9a" stroke-width="3.3" stroke-linejoin="round"/>
<path d="M99.7,698.3 L100.2,698.3 L100.7,698.3 L101.2,698.3 L101.7,698.3 L102.2,698.3 L102.7,698.3 L103.2,698.3 L103.7,698.3 L104.2,698.3 L104.7,698.3 L105.2,698.3 L105.7,698.2 L106.2,698.2 L106.7,698.2 L107.2,698.2 L107.7,698.2 L108.2,698.2 L108.7,698.2 L109.2,698.2 L109.7,698.2 L110.2,698.2 L110.7,698.2 L111.2,698.2 L111.7,698.2 L112.2,698.2 L112.7,698.2 L113.2,698.2 L113.7,698.1 L114.2,698.1 L114.7,698.1 L115.2,698.1 L115.7,698.1 L116.2,698.1 L116.7,698.1 L117.2,698.1 L117.7,698.1 L118.2,698.1 L118.7,698.1 L119.2,698.1 L119.7,698.1 L120.2,698.1 L120.7,698.1 L121.2,698.0 L121.7,698.0 L122.2,698.0 L122.7,698.0 L123.2,698.0 L123.7,698.0 L124.2,698.0 L124.7,698.0 L125.2,698.0 L125.7,698.0 L126.2,698.0 L126.7,698.0 L127.2,698.0 L127.7,698.0 L128.2,698.0 L128.7,697.9 L129.2,697.9 L129.7,697.9 L130.2,697.9 L130.7,697.9 L131.2,697.9 L131.7,697.9 L132.2,697.9 L132.7,697.9 L133.2,697.9 L133.7,697.9 L134.2,697.9 L134.7,697.9 L135.2,697.8 L135.7,697.8 L136.2,697.8 L136.7,697.8 L137.2,697.8 L137.7,697.8 L138.2,697.8 L138.7,697.8 L139.2,697.8 L139.7,697.8 L140.2,697.8 L140.7,697.8 L141.2,697.8 L141.7,697.7 L142.2,697.7 L142.7,697.7 L143.2,697.7 L143.7,697.7 L144.2,697.7 L144.7,697.7 L145.2,697.7 L145.7,697.7 L146.2,697.7 L146.7,697.7 L147.2,697.7 L147.7,697.6 L148.2,697.6 L148.7,697.6 L149.2,697.6 L149.7,697.6 L150.2,697.6 L150.7,697.6 L151.2,697.6 L151.7,697.6 L152.2,697.6 L152.7,697.6 L153.2,697.5 L153.7,697.5 L154.2,697.5 L154.7,697.5 L155.2,697.5 L155.7,697.5 L156.2,697.5 L156.7,697.5 L157.2,697.5 L157.7,697.5 L158.2,697.5 L158.7,697.4 L159.2,697.4 L159.7,697.4 L160.2,697.4 L160.7,697.4 L161.2,697.4 L161.7,697.4 L162.2,697.4 L162.7,697.4 L163.2,697.4 L163.7,697.3 L164.2,697.3 L164.7,697.3 L165.2,697.3 L165.7,697.3 L166.2,697.3 L166.7,697.3 L167.2,697.3 L167.7,697.3 L168.2,697.3 L168.7,697.2 L169.2,697.2 L169.7,697.2 L170.2,697.2 L170.7,697.2 L171.2,697.2 L171.7,697.2 L172.2,697.2 L172.7,697.2 L173.2,697.1 L173.7,697.1 L174.2,697.1 L174.7,697.1 L175.2,697.1 L175.7,697.1 L176.2,697.1 L176.7,697.1 L177.2,697.1 L177.7,697.0 L178.2,697.0 L178.7,697.0 L179.2,697.0 L179.7,697.0 L180.2,697.0 L180.7,697.0 L181.2,697.0 L181.7,696.9 L182.2,696.9 L182.7,696.9 L183.2,696.9 L183.7,696.9 L184.2,696.9 L184.7,696.9 L185.2,696.9 L185.7,696.8 L186.2,696.8 L186.7,696.8 L187.2,696.8 L187.7,696.8 L188.2,696.8 L188.7,696.8 L189.2,696.8 L189.7,696.7 L190.2,696.7 L190.7,696.7 L191.2,696.7 L191.7,696.7 L192.2,696.7 L192.7,696.7 L193.2,696.6 L193.7,696.6 L194.2,696.6 L194.7,696.6 L195.2,696.6 L195.7,696.6 L196.2,696.6 L196.7,696.5 L197.2,696.5 L197.7,696.5 L198.2,696.5 L198.7,696.5 L199.2,696.5 L199.7,696.5 L200.2,696.4 L200.7,696.4 L201.2,696.4 L201.7,696.4 L202.2,696.4 L202.7,696.4 L203.2,696.4 L203.7,696.3 L204.2,696.3 L204.7,696.3 L205.2,696.3 L205.7,696.3 L206.2,696.3 L206.7,696.2 L207.2,696.2 L207.7,696.2 L208.2,696.2 L208.7,696.2 L209.2,696.2 L209.7,696.1 L210.2,696.1 L210.7,696.1 L211.2,696.1 L211.7,696.1 L212.2,696.1 L212.7,696.0 L213.2,696.0 L213.7,696.0 L214.2,696.0 L214.7,696.0 L215.2,695.9 L215.7,695.9 L216.2,695.9 L216.7,695.9 L217.2,695.9 L217.7,695.9 L218.2,695.8 L218.7,695.8 L219.2,695.8 L219.7,695.8 L220.2,695.8 L220.7,695.7 L221.2,695.7 L221.7,695.7 L222.2,695.7 L222.7,695.7 L223.2,695.6 L223.7,695.6 L224.2,695.6 L224.7,695.6 L225.2,695.6 L225.7,695.5 L226.2,695.5 L226.7,695.5 L227.2,695.5 L227.7,695.5 L228.2,695.4 L228.7,695.4 L229.2,695.4 L229.7,695.4 L230.2,695.3 L230.7,695.3 L231.2,695.3 L231.7,695.3 L232.2,695.3 L232.7,695.2 L233.2,695.2 L233.7,695.2 L234.2,695.2 L234.7,695.1 L235.2,695.1 L235.7,695.1 L236.2,695.1 L236.7,695.0 L237.2,695.0 L237.7,695.0 L238.2,695.0 L238.7,694.9 L239.2,694.9 L239.7,694.9 L240.2,694.9 L240.7,694.8 L241.2,694.8 L241.7,694.8 L242.2,694.8 L242.7,694.7 L243.2,694.7 L243.7,694.7 L244.2,694.7 L244.7,694.6 L245.2,694.6 L245.7,694.6 L246.2,694.5 L246.7,694.5 L247.2,694.5 L247.7,694.5 L248.2,694.4 L248.7,694.4 L249.2,694.4 L249.7,694.3 L250.2,694.3 L250.7,694.3 L251.2,694.2 L251.7,694.2 L252.2,694.2 L252.7,694.2 L253.2,694.1 L253.7,694.1 L254.2,694.1 L254.7,694.0 L255.2,694.0 L255.7,694.0 L256.2,693.9 L256.7,693.9 L257.2,693.9 L257.7,693.8 L258.2,693.8 L258.7,693.8 L259.2,693.7 L259.7,693.7 L260.2,693.7 L260.7,693.6 L261.2,693.6 L261.7,693.5 L262.2,693.5 L262.7,693.5 L263.2,693.4 L263.7,693.4 L264.2,693.4 L264.7,693.3 L265.2,693.3 L265.7,693.2 L266.2,693.2 L266.7,693.2 L267.2,693.1 L267.7,693.1 L268.2,693.0 L268.7,693.0 L269.2,692.9 L269.7,692.9 L270.2,692.9 L270.7,692.8 L271.2,692.8 L271.7,692.7 L272.2,692.7 L272.7,692.6 L273.2,692.6 L273.7,692.6 L274.2,692.5 L274.7,692.5 L275.2,692.4 L275.7,692.4 L276.2,692.3 L276.7,692.3 L277.2,692.2 L277.7,692.2 L278.2,692.1 L278.7,692.1 L279.2,692.0 L279.7,692.0 L280.2,691.9 L280.7,691.8 L281.2,691.8 L281.7,691.7 L282.2,691.7 L282.7,691.6 L283.2,691.6 L283.7,691.5 L284.2,691.4 L284.7,691.4 L285.2,691.3 L285.7,691.3 L286.2,691.2 L286.7,691.1 L287.2,691.1 L287.7,691.0 L288.2,690.9 L288.7,690.9 L289.2,690.8 L289.7,690.7 L290.2,690.7 L290.7,690.6 L291.2,690.5 L291.7,690.4 L292.2,690.4 L292.7,690.3 L293.2,690.2 L293.7,690.1 L294.2,690.0 L294.7,690.0 L295.2,689.9 L295.7,689.8 L296.2,689.7 L296.7,689.6 L297.2,689.5 L297.7,689.4 L298.2,689.3 L298.7,689.2 L299.2,689.1 L299.7,689.0 L300.2,688.9 L300.7,688.8 L301.2,688.7 L301.7,688.6 L302.2,688.5 L302.7,688.4 L303.2,688.3 L303.7,688.2 L304.2,688.1 L304.7,687.9 L305.2,687.8 L305.7,687.7 L306.2,687.6 L306.7,687.4 L307.2,687.3 L307.7,687.2 L308.2,687.0 L308.7,686.9 L309.2,686.7 L309.7,686.6 L310.2,686.4 L310.7,686.3 L311.2,686.1 L311.7,685.9 L312.2,685.8 L312.7,685.6 L313.2,685.4 L313.7,685.2 L314.2,685.1 L314.7,684.9 L315.2,684.7 L315.7,684.5 L316.2,684.3 L316.7,684.1 L317.2,683.9 L317.7,683.6 L318.2,683.4 L318.7,683.2 L319.2,683.0 L319.7,682.7 L320.2,682.5 L320.7,682.2 L321.2,682.0 L321.7,681.7 L322.2,681.4 L322.7,681.2 L323.2,680.9 L323.7,680.6 L324.2,680.3 L324.7,680.0 L325.2,679.7 L325.7,679.4 L326.2,679.1 L326.7,678.7 L327.2,678.4 L327.7,678.1 L328.2,677.7 L328.7,677.4 L329.2,677.0 L329.7,676.6 L330.2,676.2 L330.7,675.8 L331.2,675.4 L331.7,675.0 L332.2,674.6 L332.7,674.2 L333.2,673.7 L333.7,673.3 L334.2,672.8 L334.7,672.4 L335.2,671.9 L335.7,671.4 L336.2,670.9 L336.7,670.4 L337.2,669.9 L337.7,669.4 L338.2,668.9 L338.7,668.3 L339.2,667.8 L339.7,667.2 L340.2,666.6 L340.7,666.1 L341.2,665.5 L341.7,664.9 L342.2,664.3 L342.7,663.6 L343.2,663.0 L343.7,662.3 L344.2,661.7 L344.7,661.0 L345.2,660.3 L345.7,659.7 L346.2,659.0 L346.7,658.2 L347.2,657.5 L347.7,656.8 L348.2,656.0 L348.7,655.3 L349.2,654.5 L349.7,653.7 L350.2,653.0 L350.7,652.2 L351.2,651.4 L351.7,650.5 L352.2,649.7 L352.7,648.9 L353.2,648.0 L353.7,647.2 L354.2,646.3 L354.7,645.4 L355.2,644.5 L355.7,643.6 L356.2,642.7 L356.7,641.8 L357.2,640.9 L357.7,640.0 L358.2,639.0 L358.7,638.1 L359.2,637.1 L359.7,636.2 L360.2,635.2 L360.7,634.2 L361.2,633.3 L361.7,632.3 L362.2,631.3 L362.7,630.3 L363.2,629.3 L363.7,628.3 L364.2,627.3 L364.7,626.3 L365.2,625.2 L365.7,624.2 L366.2,623.2 L366.7,622.2 L367.2,621.2 L367.7,620.2 L368.2,619.1 L368.7,618.1 L369.2,617.1 L369.7,616.1 L370.2,615.1 L370.7,614.1 L371.2,613.1 L371.7,612.1 L372.2,611.1 L372.7,610.1 L373.2,609.1 L373.7,608.2 L374.2,607.2 L374.7,606.3 L375.2,605.3 L375.7,604.4 L376.2,603.5 L376.7,602.6 L377.2,601.7 L377.7,600.9 L378.2,600.0 L378.7,599.2 L379.2,598.4 L379.7,597.6 L380.2,596.8 L380.7,596.1 L381.2,595.3 L381.7,594.6 L382.2,594.0 L382.7,593.3 L383.2,592.7 L383.7,592.1 L384.2,591.5 L384.7,591.0 L385.2,590.5 L385.7,590.0 L386.2,589.6 L386.7,589.2 L387.2,588.8 L387.7,588.4 L388.2,588.1 L388.7,587.8 L389.2,587.6 L389.7,587.4 L390.2,587.2 L390.7,587.1 L391.2,587.0 L391.7,586.9 L392.2,586.9 L392.7,586.9 L393.2,586.9 L393.7,587.0 L394.2,587.1 L394.7,587.2 L395.2,587.4 L395.7,587.6 L396.2,587.8 L396.7,588.1 L397.2,588.4 L397.7,588.8 L398.2,589.1 L398.7,589.5 L399.2,590.0 L399.7,590.4 L400.2,590.9 L400.7,591.4 L401.2,592.0 L401.7,592.5 L402.2,593.1 L402.7,593.7 L403.2,594.4 L403.7,595.0 L404.2,595.7 L404.7,596.4 L405.2,597.1 L405.7,597.9 L406.2,598.6 L406.7,599.4 L407.2,600.2 L407.7,601.0 L408.2,601.8 L408.7,602.7 L409.2,603.5 L409.7,604.4 L410.2,605.2 L410.7,606.1 L411.2,607.0 L411.7,607.9 L412.2,608.8 L412.7,609.7 L413.2,610.6 L413.7,611.5 L414.2,612.5 L414.7,613.4 L415.2,614.3 L415.7,615.3 L416.2,616.2 L416.7,617.1 L417.2,618.1 L417.7,619.0 L418.2,619.9 L418.7,620.9 L419.2,621.8 L419.7,622.7 L420.2,623.6 L420.7,624.5 L421.2,625.4 L421.7,626.3 L422.2,627.2 L422.7,628.1 L423.2,629.0 L423.7,629.9 L424.2,630.8 L424.7,631.6 L425.2,632.5 L425.7,633.3 L426.2,634.1 L426.7,635.0 L427.2,635.8 L427.7,636.6 L428.2,637.4 L428.7,638.1 L429.2,638.9 L429.7,639.7 L430.2,640.4 L430.7,641.1 L431.2,641.9 L431.7,642.6 L432.2,643.3 L432.7,643.9 L433.2,644.6 L433.7,645.3 L434.2,645.9 L434.7,646.5 L435.2,647.1 L435.7,647.7 L436.2,648.3 L436.7,648.9 L437.2,649.5 L437.7,650.0 L438.2,650.5 L438.7,651.0 L439.2,651.5 L439.7,652.0 L440.2,652.5 L440.7,653.0 L441.2,653.4 L441.7,653.8 L442.2,654.2 L442.7,654.6 L443.2,655.0 L443.7,655.4 L444.2,655.7 L444.7,656.1 L445.2,656.4 L445.7,656.7 L446.2,657.0 L446.7,657.3 L447.2,657.6 L447.7,657.8 L448.2,658.1 L448.7,658.3 L449.2,658.5 L449.7,658.7 L450.2,658.9 L450.7,659.1 L451.2,659.3 L451.7,659.4 L452.2,659.6 L452.7,659.7 L453.2,659.8 L453.7,659.9 L454.2,660.0 L454.7,660.1 L455.2,660.2 L455.7,660.2 L456.2,660.3 L456.7,660.3 L457.2,660.3 L457.7,660.3 L458.2,660.3 L458.7,660.3 L459.2,660.3 L459.7,660.3 L460.2,660.2 L460.7,660.2 L461.2,660.1 L461.7,660.0 L462.2,659.9 L462.7,659.8 L463.2,659.7 L463.7,659.6 L464.2,659.5 L464.7,659.3 L465.2,659.2 L465.7,659.0 L466.2,658.9 L466.7,658.7 L467.2,658.5 L467.7,658.3 L468.2,658.1 L468.7,657.9 L469.2,657.7 L469.7,657.5 L470.2,657.2 L470.7,657.0 L471.2,656.7 L471.7,656.5 L472.2,656.2 L472.7,655.9 L473.2,655.6 L473.7,655.3 L474.2,655.0 L474.7,654.7 L475.2,654.3 L475.7,654.0 L476.2,653.7 L476.7,653.3 L477.2,653.0 L477.7,652.6 L478.2,652.2 L478.7,651.8 L479.2,651.4 L479.7,651.0 L480.2,650.6 L480.7,650.2 L481.2,649.7 L481.7,649.3 L482.2,648.9 L482.7,648.4 L483.2,647.9 L483.7,647.4 L484.2,647.0 L484.7,646.5 L485.2,646.0 L485.7,645.4 L486.2,644.9 L486.7,644.4 L487.2,643.9 L487.7,643.3 L488.2,642.7 L488.7,642.2 L489.2,641.6 L489.7,641.0 L490.2,640.4 L490.7,639.8 L491.2,639.2 L491.7,638.5 L492.2,637.9 L492.7,637.2 L493.2,636.6 L493.7,635.9 L494.2,635.2 L494.7,634.5 L495.2,633.8 L495.7,633.1 L496.2,632.4 L496.7,631.7 L497.2,630.9 L497.7,630.1 L498.2,629.4 L498.7,628.6 L499.2,627.8 L499.7,627.0 L500.2,626.2 L500.7,625.4 L501.2,624.5 L501.7,623.7 L502.2,622.8 L502.7,621.9 L503.2,621.0 L503.7,620.1 L504.2,619.2 L504.7,618.3 L505.2,617.3 L505.7,616.4 L506.2,615.4 L506.7,614.5 L507.2,613.5 L507.7,612.5 L508.2,611.5 L508.7,610.4 L509.2,609.4 L509.7,608.3 L510.2,607.3 L510.7,606.2 L511.2,605.1 L511.7,604.0 L512.2,602.9 L512.7,601.8 L513.2,600.6 L513.7,599.5 L514.2,598.3 L514.7,597.2 L515.2,596.0 L515.7,594.8 L516.2,593.6 L516.7,592.4 L517.2,591.1 L517.7,589.9 L518.2,588.6 L518.7,587.4 L519.2,586.1 L519.7,584.8 L520.2,583.6 L520.7,582.3 L521.2,581.0 L521.7,579.7 L522.2,578.4 L522.7,577.0 L523.2,575.7 L523.7,574.4 L524.2,573.1 L524.7,571.7 L525.2,570.4 L525.7,569.1 L526.2,567.7 L526.7,566.4 L527.2,565.0 L527.7,563.7 L528.2,562.4 L528.7,561.0 L529.2,559.7 L529.7,558.4 L530.2,557.1 L530.7,555.8 L531.2,554.5 L531.7,553.2 L532.2,551.9 L532.7,550.6 L533.2,549.4 L533.7,548.1 L534.2,546.9 L534.7,545.7 L535.2,544.5 L535.7,543.4 L536.2,542.2 L536.7,541.1 L537.2,540.0 L537.7,538.9 L538.2,537.9 L538.7,536.9 L539.2,535.9 L539.7,534.9 L540.2,534.0 L540.7,533.1 L541.2,532.3 L541.7,531.5 L542.2,530.7 L542.7,529.9 L543.2,529.2 L543.7,528.6 L544.2,528.0 L544.7,527.4 L545.2,526.8 L545.7,526.4 L546.2,525.9 L546.7,525.5 L547.2,525.2 L547.7,524.8 L548.2,524.6 L548.7,524.4 L549.2,524.2 L549.7,524.1 L550.2,524.0 L550.7,524.0 L551.2,524.1 L551.7,524.1 L552.2,524.3 L552.7,524.5 L553.2,524.7 L553.7,525.0 L554.2,525.3 L554.7,525.7 L555.2,526.1 L555.7,526.6 L556.2,527.1 L556.7,527.7 L557.2,528.3 L557.7,528.9 L558.2,529.6 L558.7,530.4 L559.2,531.1 L559.7,531.9 L560.2,532.8 L560.7,533.7 L561.2,534.6 L561.7,535.6 L562.2,536.6 L562.7,537.6 L563.2,538.6 L563.7,539.7 L564.2,540.8 L564.7,542.0 L565.2,543.1 L565.7,544.3 L566.2,545.5 L566.7,546.7 L567.2,548.0 L567.7,549.2 L568.2,550.5 L568.7,551.8 L569.2,553.1 L569.7,554.5 L570.2,555.8 L570.7,557.1 L571.2,558.5 L571.7,559.9 L572.2,561.2 L572.7,562.6 L573.2,564.0 L573.7,565.4 L574.2,566.8 L574.7,568.2 L575.2,569.6 L575.7,571.0 L576.2,572.4 L576.7,573.8 L577.2,575.2 L577.7,576.6 L578.2,577.9 L578.7,579.3 L579.2,580.7 L579.7,582.1 L580.2,583.5 L580.7,584.8 L581.2,586.2 L581.7,587.5 L582.2,588.9 L582.7,590.2 L583.2,591.5 L583.7,592.9 L584.2,594.2 L584.7,595.5 L585.2,596.8 L585.7,598.1 L586.2,599.3 L586.7,600.6 L587.2,601.8 L587.7,603.1 L588.2,604.3 L588.7,605.5 L589.2,606.7 L589.7,607.9 L590.2,609.1 L590.7,610.3 L591.2,611.4 L591.7,612.6 L592.2,613.7 L592.7,614.8 L593.2,615.9 L593.7,617.0 L594.2,618.1 L594.7,619.2 L595.2,620.2 L595.7,621.3 L596.2,622.3 L596.7,623.3 L597.2,624.4 L597.7,625.3 L598.2,626.3 L598.7,627.3 L599.2,628.3 L599.7,629.2 L600.2,630.1 L600.7,631.1 L601.2,632.0 L601.7,632.9 L602.2,633.8 L602.7,634.6 L603.2,635.5 L603.7,636.3 L604.2,637.2 L604.7,638.0 L605.2,638.8 L605.7,639.6 L606.2,640.4 L606.7,641.2 L607.2,642.0 L607.7,642.7 L608.2,643.5 L608.7,644.2 L609.2,645.0 L609.7,645.7 L610.2,646.4 L610.7,647.1 L611.2,647.8 L611.7,648.4 L612.2,649.1 L612.7,649.7 L613.2,650.4 L613.7,651.0 L614.2,651.7 L614.7,652.3 L615.2,652.9 L615.7,653.5 L616.2,654.1 L616.7,654.6 L617.2,655.2 L617.7,655.8 L618.2,656.3 L618.7,656.9 L619.2,657.4 L619.7,657.9 L620.2,658.5 L620.7,659.0 L621.2,659.5 L621.7,660.0 L622.2,660.5 L622.7,660.9 L623.2,661.4 L623.7,661.9 L624.2,662.3 L624.7,662.8 L625.2,663.2 L625.7,663.7 L626.2,664.1 L626.7,664.5 L627.2,664.9 L627.7,665.3 L628.2,665.7 L628.7,666.1 L629.2,666.5 L629.7,666.9 L630.2,667.3 L630.7,667.7 L631.2,668.0 L631.7,668.4 L632.2,668.7 L632.7,669.1 L633.2,669.4 L633.7,669.8 L634.2,670.1 L634.7,670.4 L635.2,670.7 L635.7,671.1 L636.2,671.4 L636.7,671.7 L637.2,672.0 L637.7,672.3 L638.2,672.6 L638.7,672.9 L639.2,673.1 L639.7,673.4 L640.2,673.7 L640.7,674.0 L641.2,674.2 L641.7,674.5 L642.2,674.8 L642.7,675.0 L643.2,675.3 L643.7,675.5 L644.2,675.8 L644.7,676.0 L645.2,676.2 L645.7,676.5 L646.2,676.7 L646.7,676.9 L647.2,677.1 L647.7,677.4 L648.2,677.6 L648.7,677.8 L649.2,678.0 L649.7,678.2 L650.2,678.4 L650.7,678.6 L651.2,678.8 L651.7,679.0 L652.2,679.2 L652.7,679.4 L653.2,679.6 L653.7,679.8 L654.2,680.0 L654.7,680.1 L655.2,680.3 L655.7,680.5 L656.2,680.7 L656.7,680.8 L657.2,681.0 L657.7,681.2 L658.2,681.3 L658.7,681.5 L659.2,681.6 L659.7,681.8 L660.2,682.0 L660.7,682.1 L661.2,682.3 L661.7,682.4 L662.2,682.6 L662.7,682.7 L663.2,682.8 L663.7,683.0 L664.2,683.1 L664.7,683.3 L665.2,683.4 L665.7,683.5 L666.2,683.7 L666.7,683.8 L667.2,683.9 L667.7,684.1 L668.2,684.2 L668.7,684.3 L669.2,684.4 L669.7,684.6 L670.2,684.7 L670.7,684.8 L671.2,684.9 L671.7,685.0 L672.2,685.1 L672.7,685.3 L673.2,685.4 L673.7,685.5 L674.2,685.6 L674.7,685.7 L675.2,685.8 L675.7,685.9 L676.2,686.0 L676.7,686.1 L677.2,686.2 L677.7,686.3 L678.2,686.4 L678.7,686.5 L679.2,686.6 L679.7,686.7 L680.2,686.8 L680.7,686.9 L681.2,687.0 L681.7,687.1 L682.2,687.2 L682.7,687.3 L683.2,687.4 L683.7,687.5 L684.2,687.6 L684.7,687.6 L685.2,687.7 L685.7,687.8 L686.2,687.9 L686.7,688.0 L687.2,688.1 L687.7,688.2 L688.2,688.2 L688.7,688.3 L689.2,688.4 L689.7,688.5 L690.2,688.6 L690.7,688.6 L691.2,688.7 L691.7,688.8 L692.2,688.9 L692.7,688.9 L693.2,689.0 L693.7,689.1 L694.2,689.2 L694.7,689.2 L695.2,689.3 L695.7,689.4 L696.2,689.4 L696.7,689.5 L697.2,689.6 L697.7,689.6 L698.2,689.7 L698.7,689.8 L699.2,689.8 L699.7,689.9 L700.2,690.0 L700.7,690.0 L701.2,690.1 L701.7,690.2 L702.2,690.2 L702.7,690.3 L703.2,690.4 L703.7,690.4 L704.2,690.5 L704.7,690.5 L705.2,690.6 L705.7,690.7 L706.2,690.7 L706.7,690.8 L707.2,690.8 L707.7,690.9 L708.2,690.9 L708.7,691.0 L709.2,691.1 L709.7,691.1 L710.2,691.2 L710.7,691.2 L711.2,691.3 L711.7,691.3 L712.2,691.4 L712.7,691.4 L713.2,691.5 L713.7,691.5 L714.2,691.6 L714.7,691.6 L715.2,691.7 L715.7,691.7 L716.2,691.8 L716.7,691.8 L717.2,691.9 L717.7,691.9 L718.2,692.0 L718.7,692.0 L719.2,692.1 L719.7,692.1 L720.2,692.2 L720.7,692.2 L721.2,692.2 L721.7,692.3 L722.2,692.3 L722.7,692.4 L723.2,692.4 L723.7,692.5 L724.2,692.5 L724.7,692.6 L725.2,692.6 L725.7,692.6 L726.2,692.7 L726.7,692.7 L727.2,692.8 L727.7,692.8 L728.2,692.8 L728.7,692.9 L729.2,692.9 L729.7,693.0 L730.2,693.0 L730.7,693.0 L731.2,693.1 L731.7,693.1 L732.2,693.2 L732.7,693.2 L733.2,693.2 L733.7,693.3 L734.2,693.3 L734.7,693.3 L735.2,693.4 L735.7,693.4 L736.2,693.5 L736.7,693.5 L737.2,693.5 L737.7,693.6 L738.2,693.6 L738.7,693.6 L739.2,693.7 L739.7,693.7 L740.2,693.7 L740.7,693.8 L741.2,693.8 L741.7,693.8 L742.2,693.9 L742.7,693.9 L743.2,693.9 L743.7,694.0 L744.2,694.0 L744.7,694.0 L745.2,694.1 L745.7,694.1 L746.2,694.1 L746.7,694.1 L747.2,694.2 L747.7,694.2 L748.2,694.2 L748.7,694.3 L749.2,694.3 L749.7,694.3 L750.2,694.4 L750.7,694.4 L751.2,694.4 L751.7,694.4 L752.2,694.5 L752.7,694.5 L753.2,694.5 L753.7,694.6 L754.2,694.6 L754.7,694.6 L755.2,694.6 L755.7,694.7 L756.2,694.7 L756.7,694.7 L757.2,694.7 L757.7,694.8 L758.2,694.8 L758.7,694.8 L759.2,694.8 L759.7,694.9 L760.2,694.9 L760.7,694.9 L761.2,694.9 L761.7,695.0 L762.2,695.0 L762.7,695.0 L763.2,695.0 L763.7,695.1 L764.2,695.1 L764.7,695.1 L765.2,695.1 L765.7,695.2 L766.2,695.2 L766.7,695.2 L767.2,695.2 L767.7,695.3 L768.2,695.3 L768.7,695.3 L769.2,695.3 L769.7,695.3 L770.2,695.4 L770.7,695.4 L771.2,695.4 L771.7,695.4 L772.2,695.5 L772.7,695.5 L773.2,695.5 L773.7,695.5 L774.2,695.5 L774.7,695.6 L775.2,695.6 L775.7,695.6 L776.2,695.6 L776.7,695.6 L777.2,695.7 L777.7,695.7 L778.2,695.7 L778.7,695.7 L779.2,695.7 L779.7,695.8 L780.2,695.8 L780.7,695.8 L781.2,695.8 L781.7,695.8 L782.2,695.9 L782.7,695.9 L783.2,695.9 L783.7,695.9 L784.2,695.9 L784.7,696.0 L785.2,696.0 L785.7,696.0 L786.2,696.0 L786.7,696.0 L787.2,696.1 L787.7,696.1 L788.2,696.1 L788.7,696.1 L789.2,696.1 L789.7,696.1 L790.2,696.2 L790.7,696.2 L791.2,696.2 L791.7,696.2 L792.2,696.2 L792.7,696.2 L793.2,696.3 L793.7,696.3 L794.2,696.3 L794.7,696.3 L795.2,696.3 L795.7,696.3 L796.2,696.4 L796.7,696.4 L797.2,696.4 L797.7,696.4 L798.2,696.4 L798.7,696.4 L799.2,696.5 L799.7,696.5 L800.2,696.5 L800.7,696.5 L801.2,696.5 L801.7,696.5 L802.2,696.5 L802.7,696.6 L803.2,696.6 L803.7,696.6 L804.2,696.6 L804.7,696.6 L805.2,696.6 L805.7,696.6 L806.2,696.7 L806.7,696.7 L807.2,696.7 L807.7,696.7 L808.2,696.7 L808.7,696.7 L809.2,696.7 L809.7,696.8 L810.2,696.8 L810.7,696.8 L811.2,696.8 L811.7,696.8 L812.2,696.8 L812.7,696.8 L813.2,696.9 L813.7,696.9 L814.2,696.9 L814.7,696.9 L815.2,696.9 L815.7,696.9 L816.2,696.9 L816.7,696.9 L817.2,697.0 L817.7,697.0 L818.2,697.0 L818.7,697.0 L819.2,697.0 L819.7,697.0 L820.2,697.0 L820.7,697.0 L821.2,697.1 L821.7,697.1 L822.2,697.1 L822.7,697.1 L823.2,697.1 L823.7,697.1 L824.2,697.1 L824.7,697.1 L825.2,697.2 L825.7,697.2 L826.2,697.2 L826.7,697.2 L827.2,697.2 L827.7,697.2 L828.2,697.2 L828.7,697.2 L829.2,697.2 L829.7,697.3 L830.2,697.3 L830.7,697.3 L831.2,697.3 L831.7,697.3 L832.2,697.3 L832.7,697.3 L833.2,697.3 L833.7,697.3 L834.2,697.4 L834.7,697.4 L835.2,697.4 L835.7,697.4 L836.2,697.4 L836.7,697.4 L837.2,697.4 L837.7,697.4 L838.2,697.4 L838.7,697.5 L839.2,697.5 L839.7,697.5 L840.2,697.5 L840.7,697.5 L841.2,697.5 L841.7,697.5 L842.2,697.5 L842.7,697.5 L843.2,697.5 L843.7,697.6 L844.2,697.6 L844.7,697.6 L845.2,697.6 L845.7,697.6 L846.2,697.6 L846.7,697.6 L847.2,697.6 L847.7,697.6 L848.2,697.6 L848.7,697.6 L849.2,697.7 L849.7,697.7 L850.2,697.7 L850.7,697.7 L851.2,697.7 L851.7,697.7 L852.2,697.7 L852.7,697.7 L853.2,697.7 L853.7,697.7 L854.2,697.7 L854.7,697.8 L855.2,697.8 L855.7,697.8 L856.2,697.8 L856.7,697.8 L857.2,697.8 L857.7,697.8 L858.2,697.8 L858.7,697.8 L859.2,697.8 L859.7,697.8 L860.2,697.8 L860.7,697.9 L861.2,697.9 L861.7,697.9 L862.2,697.9 L862.7,697.9 L863.2,697.9 L863.7,697.9 L864.2,697.9 L864.7,697.9 L865.2,697.9 L865.7,697.9 L866.2,697.9 L866.7,698.0 L867.2,698.0 L867.7,698.0 L868.2,698.0 L868.7,698.0 L869.2,698.0 L869.7,698.0 L870.2,698.0 L870.7,698.0 L871.2,698.0 L871.7,698.0 L872.2,698.0 L872.7,698.0 L873.2,698.1 L873.7,698.1 L874.2,698.1 L874.7,698.1 L875.2,698.1 L875.7,698.1 L876.2,698.1 L876.7,698.1 L877.2,698.1 L877.7,698.1 L878.2,698.1 L878.7,698.1 L879.2,698.1 L879.7,698.1 L880.2,698.2 L880.7,698.2 L881.2,698.2 L881.7,698.2 L882.2,698.2 L882.7,698.2 L883.2,698.2 L883.7,698.2 L884.2,698.2 L884.7,698.2 L885.2,698.2 L885.7,698.2 L886.2,698.2 L886.7,698.2 L887.2,698.2 L887.7,698.3 L888.2,698.3 L888.7,698.3 L889.2,698.3 L889.7,698.3 L890.2,698.3 L890.7,698.3 L891.2,698.3 L891.7,698.3 L892.2,698.3 L892.7,698.3 L893.2,698.3 L893.7,698.3 L894.2,698.3 L894.7,698.3 L895.2,698.3 L895.7,698.4 L896.2,698.4 L896.7,698.4 L897.2,698.4 L897.7,698.4 L898.2,698.4 L898.7,698.4 L899.2,698.4 L899.7,698.4 L900.2,698.4 L900.7,698.4 L901.2,698.4 L901.7,698.4 L902.2,698.4 L902.7,698.4 L903.2,698.4 L903.7,698.4 L904.2,698.5 L904.7,698.5 L905.2,698.5 L905.7,698.5 L906.2,698.5 L906.7,698.5 L907.2,698.5 L907.7,698.5 L908.2,698.5 L908.7,698.5 L909.2,698.5 L909.7,698.5 L910.2,698.5 L910.7,698.5 L911.2,698.5 L911.7,698.5 L912.2,698.5 L912.7,698.5 L913.2,698.5 L913.7,698.6 L914.2,698.6 L914.7,698.6 L915.2,698.6 L915.7,698.6 L916.2,698.6 L916.7,698.6 L917.2,698.6 L917.7,698.6 L918.2,698.6 L918.7,698.6 L919.2,698.6 L919.7,698.6 L920.2,698.6 L920.7,698.6 L921.2,698.6 L921.7,698.6 L922.2,698.6 L922.7,698.6 L923.2,698.6 L923.7,698.7 L924.2,698.7 L924.7,698.7 L925.2,698.7 L925.7,698.7 L926.2,698.7 L926.7,698.7 L927.2,698.7 L927.7,698.7 L928.2,698.7 L928.7,698.7 L929.2,698.7 L929.7,698.7 L930.2,698.7 L930.7,698.7 L931.2,698.7 L931.7,698.7 L932.2,698.7 L932.7,698.7 L933.2,698.7 L933.7,698.7 L934.2,698.8 L934.7,698.8 L935.2,698.8 L935.7,698.8 L936.2,698.8 L936.7,698.8 L937.2,698.8 L937.7,698.8 L938.2,698.8 L938.7,698.8 L939.2,698.8 L939.7,698.8 L940.2,698.8 L940.7,698.8 L941.2,698.8 L941.7,698.8 L942.2,698.8 L942.7,698.8 L943.2,698.8 L943.7,698.8 L944.2,698.8 L944.7,698.8 L945.2,698.8 L945.7,698.8 L946.2,698.9 L946.7,698.9 L947.2,698.9 L947.7,698.9 L948.2,698.9 L948.7,698.9 L949.2,698.9 L949.7,698.9 L950.2,698.9 L950.7,698.9 L951.2,698.9 L951.7,698.9 L952.2,698.9 L952.7,698.9 L953.2,698.9 L953.7,698.9 L954.2,698.9 L954.7,698.9 L955.2,698.9 L955.7,698.9 L956.2,698.9 L956.7,698.9 L957.2,698.9 L957.7,698.9 L958.2,698.9 L958.7,699.0 L959.2,699.0 L959.7,699.0 L960.2,699.0 L960.7,699.0 L961.2,699.0 L961.7,699.0 L962.2,699.0 L962.7,699.0 L963.2,699.0 L963.7,699.0 L964.2,699.0 L964.7,699.0 L965.2,699.0 L965.7,699.0 L966.2,699.0 L966.7,699.0 L967.2,699.0 L967.7,699.0 L968.2,699.0 L968.7,699.0 L969.2,699.0 L969.7,699.0 L970.2,699.0 L970.7,699.0 L971.2,699.0 L971.7,699.0 L972.2,699.0 L972.7,699.0 L973.2,699.1 L973.7,699.1 L974.2,699.1 L974.7,699.1 L975.2,699.1 L975.7,699.1 L976.2,699.1 L976.7,699.1 L977.2,699.1 L977.7,699.1 L978.2,699.1 L978.7,699.1 L979.2,699.1 L979.7,699.1 L980.2,699.1 L980.7,699.1 L981.2,699.1 L981.7,699.1 L982.2,699.1 L982.7,699.1 L983.2,699.1" fill="none" stroke="#aa362d" stroke-width="3.5" stroke-linejoin="round"/>
<rect x="98.2" y="3.3" width="886.5999999999999" height="713.7" fill="none" stroke="#000" stroke-width="3.5"/>
<path d="M120.5,717.0V710.0M120.5,3.3V9.8M142.6,717.0V710.0M142.6,3.3V9.8M164.8,717.0V710.0M164.8,3.3V9.8M186.9,717.0V710.0M186.9,3.3V9.8M209.1,717.0V703.0M209.1,3.3V17.3M231.3,717.0V710.0M231.3,3.3V9.8M253.4,717.0V710.0M253.4,3.3V9.8M275.6,717.0V710.0M275.6,3.3V9.8M297.7,717.0V710.0M297.7,3.3V9.8M319.9,717.0V703.0M319.9,3.3V17.3M342.1,717.0V710.0M342.1,3.3V9.8M364.2,717.0V710.0M364.2,3.3V9.8M386.4,717.0V710.0M386.4,3.3V9.8M408.5,717.0V710.0M408.5,3.3V9.8M430.7,717.0V703.0M430.7,3.3V17.3M452.9,717.0V710.0M452.9,3.3V9.8M475.0,717.0V710.0M475.0,3.3V9.8M497.2,717.0V710.0M497.2,3.3V9.8M519.3,717.0V710.0M519.3,3.3V9.8M541.5,717.0V703.0M541.5,3.3V17.3M563.7,717.0V710.0M563.7,3.3V9.8M585.8,717.0V710.0M585.8,3.3V9.8M608.0,717.0V710.0M608.0,3.3V9.8M630.1,717.0V710.0M630.1,3.3V9.8M652.3,717.0V703.0M652.3,3.3V17.3M674.5,717.0V710.0M674.5,3.3V9.8M696.6,717.0V710.0M696.6,3.3V9.8M718.8,717.0V710.0M718.8,3.3V9.8M740.9,717.0V710.0M740.9,3.3V9.8M763.1,717.0V703.0M763.1,3.3V17.3M785.3,717.0V710.0M785.3,3.3V9.8M807.4,717.0V710.0M807.4,3.3V9.8M829.6,717.0V710.0M829.6,3.3V9.8M851.7,717.0V710.0M851.7,3.3V9.8M873.9,717.0V703.0M873.9,3.3V17.3M896.1,717.0V710.0M896.1,3.3V9.8M918.2,717.0V710.0M918.2,3.3V9.8M940.4,717.0V710.0M940.4,3.3V9.8M962.5,717.0V710.0M962.5,3.3V9.8M98.2,700.7H112.2M984.8,700.7H970.8M98.2,659.7H105.2M984.8,659.7H977.8M98.2,618.6H112.2M984.8,618.6H970.8M98.2,577.6H105.2M984.8,577.6H977.8M98.2,536.6H112.2M984.8,536.6H970.8M98.2,495.5H105.2M984.8,495.5H977.8M98.2,454.5H112.2M984.8,454.5H970.8M98.2,413.5H105.2M984.8,413.5H977.8M98.2,372.4H112.2M984.8,372.4H970.8M98.2,331.4H105.2M984.8,331.4H977.8M98.2,290.4H112.2M984.8,290.4H970.8M98.2,249.3H105.2M984.8,249.3H977.8M98.2,208.3H112.2M984.8,208.3H970.8M98.2,167.2H105.2M984.8,167.2H977.8M98.2,126.2H112.2M984.8,126.2H970.8M98.2,85.2H105.2M984.8,85.2H977.8M98.2,44.1H112.2M984.8,44.1H970.8" stroke="#000" stroke-width="3.5" fill="none"/>
<text x="98.3" y="762" text-anchor="middle" class="tl">690</text>
<text x="209.1" y="762" text-anchor="middle" class="tl">691</text>
<text x="319.9" y="762" text-anchor="middle" class="tl">692</text>
<text x="430.7" y="762" text-anchor="middle" class="tl">693</text>
<text x="541.5" y="762" text-anchor="middle" class="tl">694</text>
<text x="652.3" y="762" text-anchor="middle" class="tl">695</text>
<text x="763.1" y="762" text-anchor="middle" class="tl">696</text>
<text x="873.9" y="762" text-anchor="middle" class="tl">697</text>
<text x="984.7" y="762" text-anchor="middle" class="tl">698</text>
<text x="82.5" y="711.7" text-anchor="end" class="tl">0</text>
<text x="82.5" y="629.6" text-anchor="end" class="tl">1</text>
<text x="82.5" y="547.6" text-anchor="end" class="tl">2</text>
<text x="82.5" y="465.5" text-anchor="end" class="tl">3</text>
<text x="82.5" y="383.4" text-anchor="end" class="tl">4</text>
<text x="82.5" y="301.4" text-anchor="end" class="tl">5</text>
<text x="82.5" y="219.3" text-anchor="end" class="tl">6</text>
<text x="82.5" y="137.2" text-anchor="end" class="tl">7</text>
<text x="82.5" y="55.1" text-anchor="end" class="tl">8</text>
<text x="541.5" y="824.8" text-anchor="middle" class="al">Wavelength / nm</text>
<text transform="translate(45.7,634.3) rotate(-90)" class="al">Emission Intensity / 10<tspan dy="-17" font-size="26">6</tspan><tspan dy="17"> counts</tspan></text>
<rect x="519" y="99.5" width="443.7" height="295.3" fill="#fff" stroke="#bdbdbd" stroke-width="2.2"/>
<rect x="527.8" y="109.5" width="69.8" height="26.5" fill="#c4c4c4" stroke="#3a3a3a" stroke-width="1.3"/>
<rect x="559" y="149" width="6.6" height="187" fill="#4f8c64"/>
<path d="M562.3,126.3L572.0,150.8L562.3,150.8L552.6,150.8Z" fill="#4f8c64"/>
<path d="M532.1,335.8H956.6" stroke="#000" stroke-width="5"/>
<path d="M666.6,246.9H738.5" stroke="#000" stroke-width="4.8"/>
<path d="M771.4,223.5H840.7" stroke="#000" stroke-width="4.8"/>
<path d="M770.3,263H839.7" stroke="#000" stroke-width="4.6"/>
<path d="M739,246.5L771,223.5M739,247.5L770,263" stroke="#999" stroke-width="3" stroke-dasharray="4.5,3" fill="none"/>
<path d="M615,147.1L656.1,232.9" stroke="#000" stroke-width="2.6" stroke-dasharray="7,4.5" fill="none"/>
<path d="M663.9,249.1L649.2,232.9L654.8,230.2L660.5,227.5Z" fill="#000"/>
<rect x="789.4" y="265.3" width="6.2" height="49.7" fill="#b53a2c"/>
<path d="M792.5,333.3L782.5,312.8L792.5,312.8L802.5,312.8Z" fill="#b53a2c"/>
<rect x="820.2" y="225.9" width="6.2" height="89.1" fill="#b53a2c"/>
<path d="M823.3,333.3L813.3,312.8L823.3,312.8L833.3,312.8Z" fill="#b53a2c"/>
<path d="M370.7,455L345.5,452.8" stroke="#000" stroke-width="2.4"/>
<path d="M327.6,451.3L349.5,447.2L346.5,452.9L348.5,459.1Z" fill="#000"/>
<path d="M534.8,431L508.6,428.0" stroke="#000" stroke-width="2.4"/>
<path d="M490.7,426.0L512.7,422.5L509.5,428.1L511.4,434.4Z" fill="#000"/>
<path d="M390.6,483.7V561.7" stroke="#000" stroke-width="2.4"/>
<path d="M390.6,579.7L384.6,556.2L390.6,559.0L396.6,556.2Z" fill="#000"/>
<path d="M551.9,455.7V498.9" stroke="#000" stroke-width="2.4"/>
<path d="M551.9,516.9L545.9,493.4L551.9,496.2L557.9,493.4Z" fill="#000"/>
<defs>
<radialGradient id="gO" cx="0.42" cy="0.4" r="0.62" fx="0.42" fy="0.42"><stop offset="0" stop-color="#fbe4dc"/><stop offset="0.16" stop-color="#e0573e"/><stop offset="0.6" stop-color="#c0301c"/><stop offset="1" stop-color="#7a1c10"/></radialGradient>
<radialGradient id="gOd" cx="0.45" cy="0.42" r="0.65"><stop offset="0" stop-color="#b08c97"/><stop offset="0.5" stop-color="#93636f"/><stop offset="1" stop-color="#6e5060"/></radialGradient>
<radialGradient id="gA1" cx="0.55" cy="0.55" r="0.62"><stop offset="0" stop-color="#cddbe9"/><stop offset="0.55" stop-color="#9cb3ca"/><stop offset="1" stop-color="#66809b"/></radialGradient>
<radialGradient id="gA2" cx="0.5" cy="0.45" r="0.62"><stop offset="0" stop-color="#ffffff"/><stop offset="0.28" stop-color="#d2e2f1"/><stop offset="0.75" stop-color="#a6bfd8"/><stop offset="1" stop-color="#8099b4"/></radialGradient>
</defs>
<path d="M730.0,432.0L846.0,432.0L854.0,446.0L847.0,536.0L795.0,546.0L731.0,541.0Z" fill="#98abbf" opacity="1"/>
<path d="M731.0,436.0L778.0,462.0L762.0,500.0L731.0,540.0Z" fill="#a2b4c6" opacity="1"/>
<path d="M800.0,466.0L854.0,446.0L847.0,536.0Z" fill="#a9bacb" opacity="1"/>
<path d="M731.0,541.0L794.0,516.0L847.0,536.0L795.0,546.0Z" fill="#8497ab" opacity="1"/>
<path d="M787.8,477.8L791.1,499.6" stroke="#8392a1" stroke-width="7.5" opacity="1"/><path d="M787.8,477.8L791.1,499.6" stroke="#a9bccf" stroke-width="4.1" opacity="1"/><path d="M791.1,499.6L793.7,516.8" stroke="#7b464f" stroke-width="7.5" opacity="1"/><path d="M791.1,499.6L793.7,516.8" stroke="#9e5a66" stroke-width="4.1" opacity="1"/>
<circle cx="793.7" cy="516.8" r="12.3" fill="url(#gOd)"/>
<path d="M729.0,540.0L846.0,540.0L853.0,600.0L855.0,617.0L790.0,647.0L727.0,619.0L728.0,600.0Z" fill="#a7b5c4" opacity="1"/>
<path d="M729.0,543.0L752.0,545.0L748.0,590.0L727.0,619.0Z" fill="#9aa8b8" opacity="1"/>
<path d="M846.0,543.0L828.0,545.0L834.0,590.0L855.0,617.0Z" fill="#9aa8b8" opacity="1"/>
<path d="M752.0,543.0L828.0,543.0L790.0,592.0Z" fill="#dfe8f2" opacity="1"/>
<path d="M748.0,548.0L770.0,575.0L760.0,598.0L742.0,585.0Z" fill="#bfcbd8" opacity="1"/>
<path d="M832.0,548.0L810.0,575.0L820.0,598.0L838.0,585.0Z" fill="#bfcbd8" opacity="1"/>
<path d="M727.0,619.0L775.0,605.0L790.0,646.0Z" fill="#8e9bac" opacity="1"/>
<path d="M855.0,617.0L805.0,605.0L790.0,646.0Z" fill="#8e9bac" opacity="1"/>
<path d="M772.0,607.0L808.0,607.0L790.0,646.0Z" fill="#cdd7e2" opacity="1"/>
<path d="M790.4,590.9L792.6,548.0" stroke="#8393a3" stroke-width="7.2" opacity="0.9"/><path d="M790.4,590.9L792.6,548.0" stroke="#a9bdd2" stroke-width="4.0" opacity="0.9"/><path d="M792.6,548.0L793.7,527.8" stroke="#895158" stroke-width="7.2" opacity="0.9"/><path d="M792.6,548.0L793.7,527.8" stroke="#b06872" stroke-width="4.0" opacity="0.9"/>
<path d="M787.8,477.8L755.0,451.6" stroke="#8493a2" stroke-width="7.0" opacity="1"/><path d="M787.8,477.8L755.0,451.6" stroke="#aabdd0" stroke-width="3.9" opacity="1"/><path d="M755.0,451.6L729.2,431.0" stroke="#893935" stroke-width="7.0" opacity="1"/><path d="M755.0,451.6L729.2,431.0" stroke="#b04a44" stroke-width="3.9" opacity="1"/>
<path d="M787.8,477.8L825.7,452.7" stroke="#8493a2" stroke-width="7.0" opacity="1"/><path d="M787.8,477.8L825.7,452.7" stroke="#aabdd0" stroke-width="3.9" opacity="1"/><path d="M825.7,452.7L855.5,433.0" stroke="#893935" stroke-width="7.0" opacity="1"/><path d="M825.7,452.7L855.5,433.0" stroke="#b04a44" stroke-width="3.9" opacity="1"/>
<path d="M787.8,477.8L755.6,514.0" stroke="#8493a2" stroke-width="7.0" opacity="1"/><path d="M787.8,477.8L755.6,514.0" stroke="#aabdd0" stroke-width="3.9" opacity="1"/><path d="M755.6,514.0L730.3,542.5" stroke="#893935" stroke-width="7.0" opacity="1"/><path d="M755.6,514.0L730.3,542.5" stroke="#b04a44" stroke-width="3.9" opacity="1"/>
<path d="M787.8,477.8L818.5,513.8" stroke="#8493a2" stroke-width="7.0" opacity="1"/><path d="M787.8,477.8L818.5,513.8" stroke="#aabdd0" stroke-width="3.9" opacity="1"/><path d="M818.5,513.8L842.7,542.0" stroke="#893935" stroke-width="7.0" opacity="1"/><path d="M818.5,513.8L842.7,542.0" stroke="#b04a44" stroke-width="3.9" opacity="1"/>
<path d="M790.4,590.9L756.7,563.8" stroke="#8998a6" stroke-width="7.0" opacity="1"/><path d="M790.4,590.9L756.7,563.8" stroke="#b0c3d6" stroke-width="3.9" opacity="1"/><path d="M756.7,563.8L730.3,542.5" stroke="#843938" stroke-width="7.0" opacity="1"/><path d="M756.7,563.8L730.3,542.5" stroke="#aa4a48" stroke-width="3.9" opacity="1"/>
<path d="M790.4,590.9L819.7,563.5" stroke="#8998a6" stroke-width="7.0" opacity="1"/><path d="M790.4,590.9L819.7,563.5" stroke="#b0c3d6" stroke-width="3.9" opacity="1"/><path d="M819.7,563.5L842.7,542.0" stroke="#843938" stroke-width="7.0" opacity="1"/><path d="M819.7,563.5L842.7,542.0" stroke="#aa4a48" stroke-width="3.9" opacity="1"/>
<path d="M790.4,590.9L755.1,606.6" stroke="#7a8999" stroke-width="7.0" opacity="1"/><path d="M790.4,590.9L755.1,606.6" stroke="#9db0c5" stroke-width="3.9" opacity="1"/><path d="M755.1,606.6L727.3,619.0" stroke="#7e3636" stroke-width="7.0" opacity="1"/><path d="M755.1,606.6L727.3,619.0" stroke="#a24646" stroke-width="3.9" opacity="1"/>
<path d="M790.4,590.9L827.0,605.6" stroke="#7a8999" stroke-width="7.0" opacity="1"/><path d="M790.4,590.9L827.0,605.6" stroke="#9db0c5" stroke-width="3.9" opacity="1"/><path d="M827.0,605.6L855.8,617.2" stroke="#7e3636" stroke-width="7.0" opacity="1"/><path d="M827.0,605.6L855.8,617.2" stroke="#a24646" stroke-width="3.9" opacity="1"/>
<path d="M790.4,590.9L790.4,622.2" stroke="#7a8999" stroke-width="7.0" opacity="1"/><path d="M790.4,590.9L790.4,622.2" stroke="#9db0c5" stroke-width="3.9" opacity="1"/><path d="M790.4,622.2L790.4,646.8" stroke="#7e3636" stroke-width="7.0" opacity="1"/><path d="M790.4,622.2L790.4,646.8" stroke="#a24646" stroke-width="3.9" opacity="1"/>
<circle cx="787.8" cy="477.8" r="25.2" fill="url(#gA1)"/>
<circle cx="790.4" cy="590.9" r="25.4" fill="url(#gA2)"/>
<circle cx="729.2" cy="431" r="12.6" fill="url(#gO)"/>
<circle cx="855.5" cy="433" r="12.6" fill="url(#gO)"/>
<circle cx="776.3" cy="460.6" r="12.6" fill="url(#gO)"/>
<circle cx="730.3" cy="542.5" r="12.6" fill="url(#gO)"/>
<circle cx="842.7" cy="542" r="12.6" fill="url(#gO)"/>
<circle cx="727.3" cy="619" r="12.6" fill="url(#gO)"/>
<circle cx="855.8" cy="617.2" r="12.6" fill="url(#gO)"/>
<circle cx="790.4" cy="646.8" r="12.6" fill="url(#gO)"/>
<text x="125.62" y="55.20" style="font-family:'Liberation Sans',Arial,sans-serif;font-size:38px;font-weight:bold" fill="#000" textLength="50.87" lengthAdjust="spacingAndGlyphs">(b)</text>
<text x="191.68" y="55.20" style="font-family:'Liberation Serif','Times New Roman',serif;font-size:41px;font-style:italic;stroke:#000;stroke-width:0.7px" fill="#000" textLength="23.28" lengthAdjust="spacingAndGlyphs">α</text>
<text x="215.20" y="55.20" style="font-family:'Liberation Sans',Arial,sans-serif;font-size:38px;font-weight:bold" fill="#000" textLength="51.22" lengthAdjust="spacingAndGlyphs">-Al</text>
<text x="268.01" y="66.10" style="font-family:'Liberation Sans',Arial,sans-serif;font-size:25px;font-weight:bold" fill="#000" textLength="14.32" lengthAdjust="spacingAndGlyphs">2</text>
<text x="283.98" y="55.20" style="font-family:'Liberation Sans',Arial,sans-serif;font-size:38px;font-weight:bold" fill="#000" textLength="30.79" lengthAdjust="spacingAndGlyphs">O</text>
<text x="316.06" y="66.10" style="font-family:'Liberation Sans',Arial,sans-serif;font-size:25px;font-weight:bold" fill="#000" textLength="12.98" lengthAdjust="spacingAndGlyphs">3</text>
<text x="330.04" y="55.20" style="font-family:'Liberation Sans',Arial,sans-serif;font-size:38px;font-weight:bold" fill="#000">:</text>
<text x="344.34" y="55.20" style="font-family:'Liberation Sans',Arial,sans-serif;font-size:38px;font-weight:bold" fill="#000">C</text>
<text x="372.70" y="55.20" style="font-family:'Liberation Sans',Arial,sans-serif;font-size:38px;font-weight:bold" fill="#000" textLength="15.91" lengthAdjust="spacingAndGlyphs">r</text>
<text x="389.81" y="38.90" style="font-family:'Liberation Sans',Arial,sans-serif;font-size:25px;font-weight:bold" fill="#000" textLength="29.23" lengthAdjust="spacingAndGlyphs">3+</text>
<text x="126.77" y="99.40" style="font-family:'Liberation Sans',Arial,sans-serif;font-size:24px;font-weight:bold" fill="#000">2</text>
<text x="141.85" y="116.30" style="font-family:'Liberation Sans',Arial,sans-serif;font-size:38px;font-weight:bold;font-style:italic" fill="#000" textLength="24.83" lengthAdjust="spacingAndGlyphs">E</text>
<text x="165.41" y="116.30" style="font-family:'Liberation Sans',Arial,sans-serif;font-size:38px;font-weight:bold" fill="#000">(</text>
<text x="180.42" y="99.40" style="font-family:'Liberation Sans',Arial,sans-serif;font-size:24px;font-weight:bold" fill="#000" textLength="12.48" lengthAdjust="spacingAndGlyphs">2</text>
<text x="194.66" y="116.30" style="font-family:'Liberation Sans',Arial,sans-serif;font-size:38px;font-weight:bold" fill="#000" textLength="41.71" lengthAdjust="spacingAndGlyphs">G)</text>
<text x="237.54" y="115.44" style="font-family:'Liberation Serif','Times New Roman',serif;font-size:48px;stroke:#000;stroke-width:0.5px" fill="#000" textLength="58.13" lengthAdjust="spacingAndGlyphs">→</text>
<text x="294.25" y="99.80" style="font-family:'Liberation Sans',Arial,sans-serif;font-size:24px;font-weight:bold" fill="#000" textLength="12.77" lengthAdjust="spacingAndGlyphs">4</text>
<text x="309.64" y="116.30" style="font-family:'Liberation Sans',Arial,sans-serif;font-size:38px;font-weight:bold;font-style:italic" fill="#000" textLength="29.41" lengthAdjust="spacingAndGlyphs">A</text>
<text x="336.21" y="126.40" style="font-family:'Liberation Sans',Arial,sans-serif;font-size:24px;font-weight:bold" fill="#000" textLength="14.32" lengthAdjust="spacingAndGlyphs">2</text>
<text x="349.81" y="116.30" style="font-family:'Liberation Sans',Arial,sans-serif;font-size:38px;font-weight:bold" fill="#000">(</text>
<text x="364.25" y="99.80" style="font-family:'Liberation Sans',Arial,sans-serif;font-size:24px;font-weight:bold" fill="#000" textLength="12.77" lengthAdjust="spacingAndGlyphs">4</text>
<text x="379.97" y="116.30" style="font-family:'Liberation Sans',Arial,sans-serif;font-size:38px;font-weight:bold" fill="#000" textLength="34.23" lengthAdjust="spacingAndGlyphs">F)</text>
<text x="122.50" y="278.40" style="font-family:'Liberation Serif','Times New Roman',serif;font-size:38px;font-style:italic;stroke:#000;stroke-width:0.7px" fill="#000" textLength="19.52" lengthAdjust="spacingAndGlyphs">λ</text>
<text x="140.22" y="288.00" style="font-family:'Liberation Sans',Arial,sans-serif;font-size:24.5px;font-weight:bold" fill="#000" textLength="41.71" lengthAdjust="spacingAndGlyphs">exc</text>
<text x="192.89" y="278.40" style="font-family:'Liberation Sans',Arial,sans-serif;font-size:36px;font-weight:bold" fill="#000" textLength="21.19" lengthAdjust="spacingAndGlyphs">=</text>
<text x="225.62" y="278.40" style="font-family:'Liberation Sans',Arial,sans-serif;font-size:36.5px;font-weight:bold" fill="#000" textLength="58.73" lengthAdjust="spacingAndGlyphs">510</text>
<text x="297.39" y="278.40" style="font-family:'Liberation Sans',Arial,sans-serif;font-size:36.5px;font-weight:bold" fill="#000">nm</text>
<text x="125.20" y="341.80" style="font-family:'Liberation Serif','Times New Roman',serif;font-size:36px;font-style:italic;stroke:#373d98;stroke-width:0.7px" fill="#373d98" textLength="13.00" lengthAdjust="spacingAndGlyphs">τ</text>
<text x="137.40" y="350.50" style="font-family:'Liberation Sans',Arial,sans-serif;font-size:24px;font-weight:bold" fill="#373d98" textLength="42.12" lengthAdjust="spacingAndGlyphs">dec</text>
<text x="190.25" y="344.54" style="font-family:'Liberation Serif','Times New Roman',serif;font-size:37px;stroke:#373d98;stroke-width:0.5px" fill="#373d98" textLength="18.81" lengthAdjust="spacingAndGlyphs">≈</text>
<text x="221.93" y="341.20" style="font-family:'Liberation Sans',Arial,sans-serif;font-size:37px;font-weight:bold" fill="#373d98" textLength="19.21" lengthAdjust="spacingAndGlyphs">6</text>
<text x="251.90" y="341.20" style="font-family:'Liberation Sans',Arial,sans-serif;font-size:37px;font-weight:bold" fill="#373d98" textLength="52.59" lengthAdjust="spacingAndGlyphs">ms</text>
<text x="125.20" y="402.80" style="font-family:'Liberation Serif','Times New Roman',serif;font-size:36px;font-style:italic;stroke:#b3392c;stroke-width:0.7px" fill="#b3392c" textLength="13.00" lengthAdjust="spacingAndGlyphs">τ</text>
<text x="137.40" y="411.50" style="font-family:'Liberation Sans',Arial,sans-serif;font-size:24px;font-weight:bold" fill="#b3392c" textLength="42.12" lengthAdjust="spacingAndGlyphs">dec</text>
<text x="190.25" y="405.54" style="font-family:'Liberation Serif','Times New Roman',serif;font-size:37px;stroke:#b3392c;stroke-width:0.5px" fill="#b3392c" textLength="18.81" lengthAdjust="spacingAndGlyphs">≈</text>
<text x="222.27" y="402.20" style="font-family:'Liberation Sans',Arial,sans-serif;font-size:37px;font-weight:bold" fill="#b3392c" textLength="18.55" lengthAdjust="spacingAndGlyphs">5</text>
<text x="251.90" y="402.20" style="font-family:'Liberation Sans',Arial,sans-serif;font-size:37px;font-weight:bold" fill="#b3392c" textLength="52.59" lengthAdjust="spacingAndGlyphs">ms</text>
<text x="700.78" y="44.40" style="font-family:'Liberation Sans',Arial,sans-serif;font-size:40px;font-weight:bold;font-style:italic" fill="#373d98" textLength="21.72" lengthAdjust="spacingAndGlyphs">T</text>
<text x="733.17" y="43.90" style="font-family:'Liberation Sans',Arial,sans-serif;font-size:40px;font-weight:bold" fill="#373d98" textLength="22.94" lengthAdjust="spacingAndGlyphs">=</text>
<text x="767.63" y="44.40" style="font-family:'Liberation Sans',Arial,sans-serif;font-size:40px;font-weight:bold" fill="#373d98" textLength="43.27" lengthAdjust="spacingAndGlyphs">78</text>
<text x="823.87" y="44.40" style="font-family:'Liberation Sans',Arial,sans-serif;font-size:40px;font-weight:bold" fill="#373d98" textLength="28.40" lengthAdjust="spacingAndGlyphs">K</text>
<text x="699.67" y="95.40" style="font-family:'Liberation Sans',Arial,sans-serif;font-size:40px;font-weight:bold;font-style:italic" fill="#b3392c" textLength="22.72" lengthAdjust="spacingAndGlyphs">T</text>
<text x="733.17" y="94.90" style="font-family:'Liberation Sans',Arial,sans-serif;font-size:40px;font-weight:bold" fill="#b3392c" textLength="22.94" lengthAdjust="spacingAndGlyphs">=</text>
<text x="767.94" y="95.40" style="font-family:'Liberation Sans',Arial,sans-serif;font-size:40px;font-weight:bold" fill="#b3392c" textLength="65.68" lengthAdjust="spacingAndGlyphs">298</text>
<text x="847.47" y="95.40" style="font-family:'Liberation Sans',Arial,sans-serif;font-size:40px;font-weight:bold" fill="#b3392c" textLength="28.40" lengthAdjust="spacingAndGlyphs">K</text>
<text x="371.79" y="472.90" style="font-family:'Liberation Sans',Arial,sans-serif;font-size:49px;font-style:italic;stroke:#000;stroke-width:0.8px" fill="#000" textLength="37.82" lengthAdjust="spacingAndGlyphs">R</text>
<text x="410.66" y="486.90" style="font-family:'Liberation Sans',Arial,sans-serif;font-size:30px;stroke:#000;stroke-width:0.8px" fill="#000" textLength="11.22" lengthAdjust="spacingAndGlyphs">1</text>
<text x="536.54" y="447.20" style="font-family:'Liberation Sans',Arial,sans-serif;font-size:49px;font-style:italic;stroke:#000;stroke-width:0.8px" fill="#000" textLength="34.32" lengthAdjust="spacingAndGlyphs">R</text>
<text x="571.66" y="460.50" style="font-family:'Liberation Sans',Arial,sans-serif;font-size:30px;stroke:#000;stroke-width:0.8px" fill="#000" textLength="19.29" lengthAdjust="spacingAndGlyphs">2</text>
<text x="605.07" y="119.60" style="font-family:'Liberation Sans',Arial,sans-serif;font-size:19px;font-weight:bold" fill="#000" textLength="8.51" lengthAdjust="spacingAndGlyphs">4</text>
<text x="618.24" y="133.20" style="font-family:'Liberation Sans',Arial,sans-serif;font-size:29.5px;font-weight:bold;font-style:italic" fill="#000" textLength="19.52" lengthAdjust="spacingAndGlyphs">T</text>
<text x="635.24" y="140.00" style="font-family:'Liberation Sans',Arial,sans-serif;font-size:19px;font-weight:bold" fill="#000" textLength="10.63" lengthAdjust="spacingAndGlyphs">2</text>
<text x="647.13" y="133.20" style="font-family:'Liberation Sans',Arial,sans-serif;font-size:29.5px;font-weight:bold" fill="#000">(</text>
<text x="659.10" y="119.60" style="font-family:'Liberation Sans',Arial,sans-serif;font-size:19px;font-weight:bold" fill="#000" textLength="7.48" lengthAdjust="spacingAndGlyphs">4</text>
<text x="668.60" y="133.20" style="font-family:'Liberation Sans',Arial,sans-serif;font-size:29.5px;font-weight:bold" fill="#000" textLength="26.82" lengthAdjust="spacingAndGlyphs">F)</text>
<text x="655.72" y="272.70" style="font-family:'Liberation Sans',Arial,sans-serif;font-size:19px;font-weight:bold" fill="#000" textLength="10.86" lengthAdjust="spacingAndGlyphs">2</text>
<text x="669.24" y="284.60" style="font-family:'Liberation Sans',Arial,sans-serif;font-size:29.5px;font-weight:bold;font-style:italic" fill="#000" textLength="17.51" lengthAdjust="spacingAndGlyphs">E</text>
<text x="687.93" y="284.60" style="font-family:'Liberation Sans',Arial,sans-serif;font-size:29.5px;font-weight:bold" fill="#000">(</text>
<text x="699.09" y="272.70" style="font-family:'Liberation Sans',Arial,sans-serif;font-size:19px;font-weight:bold" fill="#000" textLength="11.32" lengthAdjust="spacingAndGlyphs">2</text>
<text x="712.25" y="284.60" style="font-family:'Liberation Sans',Arial,sans-serif;font-size:29.5px;font-weight:bold" fill="#000" textLength="33.87" lengthAdjust="spacingAndGlyphs">G)</text>
<text x="853.58" y="232.20" style="font-family:'Liberation Serif','Times New Roman',serif;font-size:30px;stroke:#000;stroke-width:0.5px" fill="#000" textLength="18.45" lengthAdjust="spacingAndGlyphs">Γ</text>
<text x="871.38" y="239.60" style="font-family:'Liberation Serif','Times New Roman',serif;font-size:20px;stroke:#000;stroke-width:0.5px" fill="#000" textLength="26.35" lengthAdjust="spacingAndGlyphs">5,6</text>
<text x="906.83" y="232.00" style="font-family:'Liberation Sans',Arial,sans-serif;font-size:29.5px;font-weight:bold" fill="#000">(</text>
<text x="917.40" y="231.80" style="font-family:'Liberation Sans',Arial,sans-serif;font-size:29.5px;font-weight:bold;font-style:italic" fill="#000" textLength="20.70" lengthAdjust="spacingAndGlyphs">R</text>
<text x="938.45" y="239.60" style="font-family:'Liberation Sans',Arial,sans-serif;font-size:19px;font-weight:bold" fill="#000" textLength="8.37" lengthAdjust="spacingAndGlyphs">1</text>
<text x="950.77" y="232.00" style="font-family:'Liberation Sans',Arial,sans-serif;font-size:29.5px;font-weight:bold" fill="#000">)</text>
<text x="856.41" y="275.30" style="font-family:'Liberation Serif','Times New Roman',serif;font-size:30px;stroke:#000;stroke-width:0.5px" fill="#000" textLength="17.89" lengthAdjust="spacingAndGlyphs">Γ</text>
<text x="874.54" y="283.20" style="font-family:'Liberation Serif','Times New Roman',serif;font-size:20px;stroke:#000;stroke-width:0.5px" fill="#000" textLength="9.25" lengthAdjust="spacingAndGlyphs">4</text>
<text x="893.33" y="275.00" style="font-family:'Liberation Sans',Arial,sans-serif;font-size:29.5px;font-weight:bold" fill="#000">(</text>
<text x="903.80" y="274.70" style="font-family:'Liberation Sans',Arial,sans-serif;font-size:29.5px;font-weight:bold;font-style:italic" fill="#000" textLength="20.70" lengthAdjust="spacingAndGlyphs">R</text>
<text x="925.22" y="283.20" style="font-family:'Liberation Sans',Arial,sans-serif;font-size:19px;font-weight:bold" fill="#000" textLength="9.36" lengthAdjust="spacingAndGlyphs">2</text>
<text x="937.17" y="275.00" style="font-family:'Liberation Sans',Arial,sans-serif;font-size:29.5px;font-weight:bold" fill="#000">)</text>
<text x="695.03" y="360.40" style="font-family:'Liberation Sans',Arial,sans-serif;font-size:19px;font-weight:bold" fill="#000" textLength="9.97" lengthAdjust="spacingAndGlyphs">4</text>
<text x="707.74" y="374.00" style="font-family:'Liberation Sans',Arial,sans-serif;font-size:29.5px;font-weight:bold;font-style:italic" fill="#000" textLength="22.51" lengthAdjust="spacingAndGlyphs">A</text>
<text x="730.00" y="383.50" style="font-family:'Liberation Sans',Arial,sans-serif;font-size:19px;font-weight:bold" fill="#000" textLength="11.21" lengthAdjust="spacingAndGlyphs">2</text>
<text x="741.83" y="374.00" style="font-family:'Liberation Sans',Arial,sans-serif;font-size:29.5px;font-weight:bold" fill="#000">(</text>
<text x="753.53" y="360.40" style="font-family:'Liberation Sans',Arial,sans-serif;font-size:19px;font-weight:bold" fill="#000" textLength="9.97" lengthAdjust="spacingAndGlyphs">4</text>
<text x="766.03" y="374.00" style="font-family:'Liberation Sans',Arial,sans-serif;font-size:29.5px;font-weight:bold" fill="#000">F)</text>
</svg></body></html>
